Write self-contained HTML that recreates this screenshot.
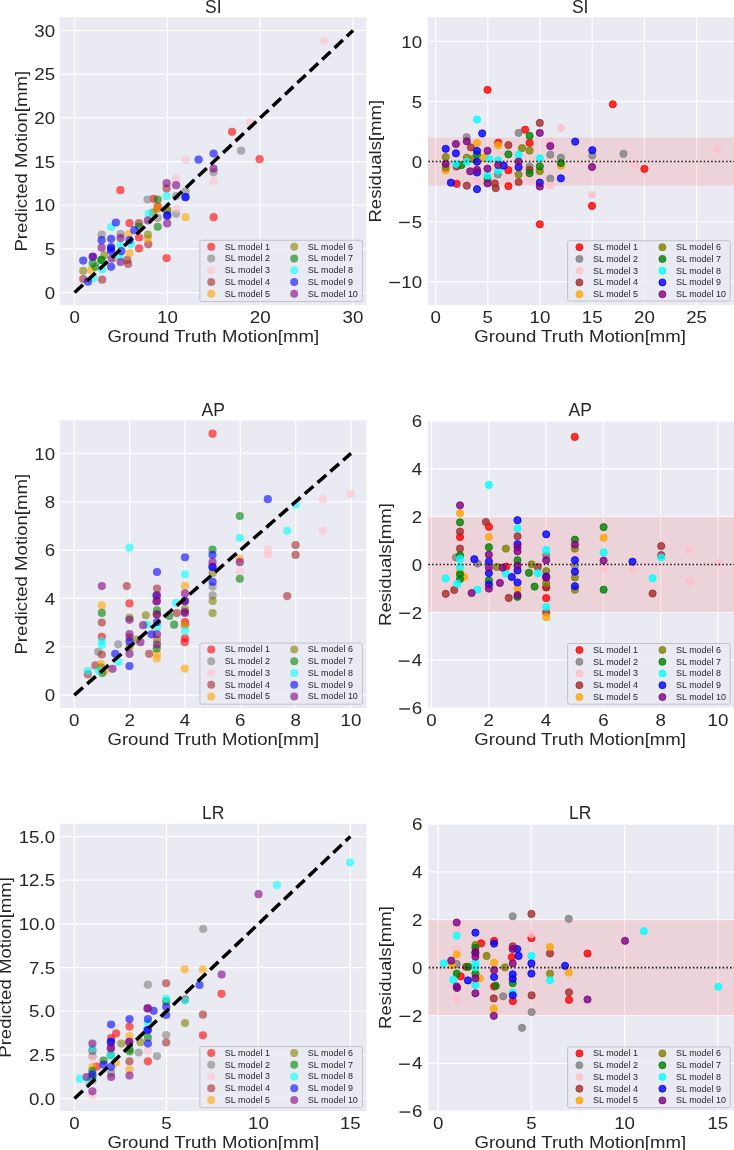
<!DOCTYPE html>
<html><head><meta charset="utf-8"><style>
html,body{margin:0;padding:0;background:#fff;width:734px;height:1150px;overflow:hidden}
svg{display:block;will-change:transform}
text{font-family:"Liberation Sans", sans-serif;fill:#262626}
.tk{font-size:16px}
.ti{font-size:17.5px}
.lb{font-size:16.6px}
.lg{font-size:8.4px}
</style></head><body>
<svg width="734" height="1150" viewBox="0 0 734 1150"><rect x="60" y="17.4" width="306.5" height="287.70000000000005" fill="#EAEAF2"/>
<clipPath id="c140074930810384"><rect x="60" y="17.4" width="306.5" height="287.70000000000005"/></clipPath>
<g clip-path="url(#c140074930810384)">
<line x1="74.60" y1="17.4" x2="74.60" y2="305.1" stroke="#fff" stroke-width="1.2"/>
<line x1="167.40" y1="17.4" x2="167.40" y2="305.1" stroke="#fff" stroke-width="1.2"/>
<line x1="260.20" y1="17.4" x2="260.20" y2="305.1" stroke="#fff" stroke-width="1.2"/>
<line x1="353.00" y1="17.4" x2="353.00" y2="305.1" stroke="#fff" stroke-width="1.2"/>
<line x1="60" y1="292.60" x2="366.5" y2="292.60" stroke="#fff" stroke-width="1.2"/>
<line x1="60" y1="248.92" x2="366.5" y2="248.92" stroke="#fff" stroke-width="1.2"/>
<line x1="60" y1="205.23" x2="366.5" y2="205.23" stroke="#fff" stroke-width="1.2"/>
<line x1="60" y1="161.55" x2="366.5" y2="161.55" stroke="#fff" stroke-width="1.2"/>
<line x1="60" y1="117.86" x2="366.5" y2="117.86" stroke="#fff" stroke-width="1.2"/>
<line x1="60" y1="74.18" x2="366.5" y2="74.18" stroke="#fff" stroke-width="1.2"/>
<line x1="60" y1="30.49" x2="366.5" y2="30.49" stroke="#fff" stroke-width="1.2"/>
<circle cx="213.6" cy="217.2" r="4.1" fill="#ff0000" fill-opacity="0.6"/>
<circle cx="129.5" cy="223.2" r="4.1" fill="#ff0000" fill-opacity="0.6"/>
<circle cx="139.0" cy="237.5" r="4.1" fill="#ff0000" fill-opacity="0.6"/>
<circle cx="139.0" cy="248.4" r="4.1" fill="#ff0000" fill-opacity="0.6"/>
<circle cx="157.7" cy="206.3" r="4.1" fill="#ff0000" fill-opacity="0.6"/>
<circle cx="153.6" cy="198.8" r="4.1" fill="#ff0000" fill-opacity="0.6"/>
<circle cx="120.4" cy="190.2" r="4.1" fill="#ff0000" fill-opacity="0.6"/>
<circle cx="232.0" cy="131.8" r="4.1" fill="#ff0000" fill-opacity="0.6"/>
<circle cx="166.6" cy="258.1" r="4.1" fill="#ff0000" fill-opacity="0.6"/>
<circle cx="259.6" cy="159.2" r="4.1" fill="#ff0000" fill-opacity="0.6"/>
<circle cx="176.1" cy="196.1" r="4.1" fill="#808080" fill-opacity="0.6"/>
<circle cx="176.1" cy="213.8" r="4.1" fill="#808080" fill-opacity="0.6"/>
<circle cx="101.6" cy="234.7" r="4.1" fill="#808080" fill-opacity="0.6"/>
<circle cx="120.6" cy="234.1" r="4.1" fill="#808080" fill-opacity="0.6"/>
<circle cx="185.6" cy="191.3" r="4.1" fill="#808080" fill-opacity="0.6"/>
<circle cx="157.7" cy="217.9" r="4.1" fill="#808080" fill-opacity="0.6"/>
<circle cx="213.6" cy="172.3" r="4.1" fill="#808080" fill-opacity="0.6"/>
<circle cx="241.1" cy="150.7" r="4.1" fill="#808080" fill-opacity="0.6"/>
<circle cx="147.5" cy="199.5" r="4.1" fill="#808080" fill-opacity="0.6"/>
<circle cx="176.8" cy="209.0" r="4.1" fill="#ffc0cb" fill-opacity="0.6"/>
<circle cx="213.6" cy="181.1" r="4.1" fill="#ffc0cb" fill-opacity="0.6"/>
<circle cx="324.4" cy="41.0" r="4.1" fill="#ffc0cb" fill-opacity="0.6"/>
<circle cx="185.6" cy="159.7" r="4.1" fill="#ffc0cb" fill-opacity="0.6"/>
<circle cx="250.0" cy="122.0" r="4.1" fill="#ffc0cb" fill-opacity="0.6"/>
<circle cx="176.1" cy="178.4" r="4.1" fill="#ffc0cb" fill-opacity="0.6"/>
<circle cx="127.4" cy="259.9" r="4.1" fill="#a52a2a" fill-opacity="0.6"/>
<circle cx="128.1" cy="264.0" r="4.1" fill="#a52a2a" fill-opacity="0.6"/>
<circle cx="166.6" cy="188.6" r="4.1" fill="#a52a2a" fill-opacity="0.6"/>
<circle cx="139.0" cy="223.2" r="4.1" fill="#a52a2a" fill-opacity="0.6"/>
<circle cx="83.2" cy="279.0" r="4.1" fill="#a52a2a" fill-opacity="0.6"/>
<circle cx="102.2" cy="279.7" r="4.1" fill="#a52a2a" fill-opacity="0.6"/>
<circle cx="148.3" cy="244.3" r="4.1" fill="#a52a2a" fill-opacity="0.6"/>
<circle cx="157.5" cy="208.6" r="4.1" fill="#a52a2a" fill-opacity="0.6"/>
<circle cx="185.6" cy="217.2" r="4.1" fill="#ffa500" fill-opacity="0.6"/>
<circle cx="128.8" cy="234.1" r="4.1" fill="#ffa500" fill-opacity="0.6"/>
<circle cx="129.5" cy="253.1" r="4.1" fill="#ffa500" fill-opacity="0.6"/>
<circle cx="91.3" cy="270.2" r="4.1" fill="#ffa500" fill-opacity="0.6"/>
<circle cx="157.7" cy="208.4" r="4.1" fill="#ffa500" fill-opacity="0.6"/>
<circle cx="147.9" cy="238.8" r="4.1" fill="#ffa500" fill-opacity="0.6"/>
<circle cx="104.3" cy="255.2" r="4.1" fill="#808000" fill-opacity="0.6"/>
<circle cx="167.2" cy="210.4" r="4.1" fill="#808000" fill-opacity="0.6"/>
<circle cx="83.2" cy="270.8" r="4.1" fill="#808000" fill-opacity="0.6"/>
<circle cx="152.9" cy="212.5" r="4.1" fill="#808000" fill-opacity="0.6"/>
<circle cx="147.9" cy="234.7" r="4.1" fill="#808000" fill-opacity="0.6"/>
<circle cx="167.3" cy="210.2" r="4.1" fill="#808000" fill-opacity="0.6"/>
<circle cx="101.6" cy="259.9" r="4.1" fill="#008000" fill-opacity="0.6"/>
<circle cx="95.4" cy="266.8" r="4.1" fill="#008000" fill-opacity="0.6"/>
<circle cx="92.7" cy="263.4" r="4.1" fill="#008000" fill-opacity="0.6"/>
<circle cx="139.0" cy="226.6" r="4.1" fill="#008000" fill-opacity="0.6"/>
<circle cx="157.7" cy="199.5" r="4.1" fill="#008000" fill-opacity="0.6"/>
<circle cx="157.7" cy="226.8" r="4.1" fill="#008000" fill-opacity="0.6"/>
<circle cx="101.1" cy="260.1" r="4.1" fill="#008000" fill-opacity="0.6"/>
<circle cx="119.9" cy="256.5" r="4.1" fill="#00ffff" fill-opacity="0.6"/>
<circle cx="120.6" cy="245.0" r="4.1" fill="#00ffff" fill-opacity="0.6"/>
<circle cx="102.2" cy="269.5" r="4.1" fill="#00ffff" fill-opacity="0.6"/>
<circle cx="130.8" cy="244.3" r="4.1" fill="#00ffff" fill-opacity="0.6"/>
<circle cx="111.1" cy="227.0" r="4.1" fill="#00ffff" fill-opacity="0.6"/>
<circle cx="166.6" cy="196.1" r="4.1" fill="#00ffff" fill-opacity="0.6"/>
<circle cx="93.4" cy="278.3" r="4.1" fill="#00ffff" fill-opacity="0.6"/>
<circle cx="148.6" cy="213.6" r="4.1" fill="#00ffff" fill-opacity="0.6"/>
<circle cx="111.1" cy="251.1" r="4.1" fill="#0000ff" fill-opacity="0.6"/>
<circle cx="111.1" cy="247.0" r="4.1" fill="#0000ff" fill-opacity="0.6"/>
<circle cx="101.6" cy="240.2" r="4.1" fill="#0000ff" fill-opacity="0.6"/>
<circle cx="111.1" cy="238.8" r="4.1" fill="#0000ff" fill-opacity="0.6"/>
<circle cx="121.3" cy="251.1" r="4.1" fill="#0000ff" fill-opacity="0.6"/>
<circle cx="185.6" cy="197.1" r="4.1" fill="#0000ff" fill-opacity="0.6"/>
<circle cx="111.1" cy="266.8" r="4.1" fill="#0000ff" fill-opacity="0.6"/>
<circle cx="129.5" cy="240.2" r="4.1" fill="#0000ff" fill-opacity="0.6"/>
<circle cx="167.2" cy="215.9" r="4.1" fill="#0000ff" fill-opacity="0.6"/>
<circle cx="213.6" cy="153.6" r="4.1" fill="#0000ff" fill-opacity="0.6"/>
<circle cx="134.3" cy="230.2" r="4.1" fill="#0000ff" fill-opacity="0.6"/>
<circle cx="83.2" cy="260.6" r="4.1" fill="#0000ff" fill-opacity="0.6"/>
<circle cx="115.9" cy="222.5" r="4.1" fill="#0000ff" fill-opacity="0.6"/>
<circle cx="198.6" cy="159.7" r="4.1" fill="#0000ff" fill-opacity="0.6"/>
<circle cx="87.9" cy="281.7" r="4.1" fill="#0000ff" fill-opacity="0.6"/>
<circle cx="92.9" cy="256.8" r="4.1" fill="#0000ff" fill-opacity="0.6"/>
<circle cx="110.9" cy="248.7" r="4.1" fill="#0000ff" fill-opacity="0.6"/>
<circle cx="167.3" cy="215.1" r="4.1" fill="#0000ff" fill-opacity="0.6"/>
<circle cx="185.3" cy="197.2" r="4.1" fill="#0000ff" fill-opacity="0.6"/>
<circle cx="101.6" cy="247.7" r="4.1" fill="#800080" fill-opacity="0.6"/>
<circle cx="111.8" cy="258.6" r="4.1" fill="#800080" fill-opacity="0.6"/>
<circle cx="120.6" cy="238.1" r="4.1" fill="#800080" fill-opacity="0.6"/>
<circle cx="120.6" cy="262.0" r="4.1" fill="#800080" fill-opacity="0.6"/>
<circle cx="92.7" cy="256.5" r="4.1" fill="#800080" fill-opacity="0.6"/>
<circle cx="167.2" cy="223.4" r="4.1" fill="#800080" fill-opacity="0.6"/>
<circle cx="176.1" cy="185.2" r="4.1" fill="#800080" fill-opacity="0.6"/>
<circle cx="166.6" cy="183.2" r="4.1" fill="#800080" fill-opacity="0.6"/>
<circle cx="147.9" cy="220.4" r="4.1" fill="#800080" fill-opacity="0.6"/>
<circle cx="213.6" cy="168.6" r="4.1" fill="#800080" fill-opacity="0.6"/>
<line x1="74.60" y1="292.60" x2="353.00" y2="30.49" stroke="#000" stroke-width="3.5" stroke-dasharray="11.5 5.5"/>
</g>
<text transform="translate(74.60,323.40) scale(1.17,1)" text-anchor="middle" class="tk">0</text>
<text transform="translate(167.40,323.40) scale(1.17,1)" text-anchor="middle" class="tk">10</text>
<text transform="translate(260.20,323.40) scale(1.17,1)" text-anchor="middle" class="tk">20</text>
<text transform="translate(353.00,323.40) scale(1.17,1)" text-anchor="middle" class="tk">30</text>
<text transform="translate(55.10,298.80) scale(1.17,1)" text-anchor="end" class="tk">0</text>
<text transform="translate(55.10,255.12) scale(1.17,1)" text-anchor="end" class="tk">5</text>
<text transform="translate(55.10,211.43) scale(1.17,1)" text-anchor="end" class="tk">10</text>
<text transform="translate(55.10,167.75) scale(1.17,1)" text-anchor="end" class="tk">15</text>
<text transform="translate(55.10,124.06) scale(1.17,1)" text-anchor="end" class="tk">20</text>
<text transform="translate(55.10,80.38) scale(1.17,1)" text-anchor="end" class="tk">25</text>
<text transform="translate(55.10,36.69) scale(1.17,1)" text-anchor="end" class="tk">30</text>
<text transform="translate(213.25,12.80) scale(1.0,1)" text-anchor="middle" class="ti">SI</text>
<text transform="translate(213.25,341.80) scale(1.12,1)" text-anchor="middle" class="lb">Ground Truth Motion[mm]</text>
<text transform="translate(27.2,161.2) rotate(-90) scale(1.12,1)" text-anchor="middle" class="lb">Predicted Motion[mm]</text>
<rect x="199.9" y="240.3" width="162.70000000000002" height="61.19999999999999" fill="#EAEAF2" fill-opacity="0.8" stroke="#bdbdc3" stroke-width="0.9" rx="1.8"/>
<circle cx="211.2" cy="246.8" r="4.0" fill="#ff0000" fill-opacity="0.6"/>
<text transform="translate(224.80,249.70) scale(1.07,1)" text-anchor="start" class="lg">SL model 1</text>
<circle cx="211.2" cy="258.6" r="4.0" fill="#808080" fill-opacity="0.6"/>
<text transform="translate(224.80,261.45) scale(1.07,1)" text-anchor="start" class="lg">SL model 2</text>
<circle cx="211.2" cy="270.3" r="4.0" fill="#ffc0cb" fill-opacity="0.6"/>
<text transform="translate(224.80,273.20) scale(1.07,1)" text-anchor="start" class="lg">SL model 3</text>
<circle cx="211.2" cy="282.1" r="4.0" fill="#a52a2a" fill-opacity="0.6"/>
<text transform="translate(224.80,284.95) scale(1.07,1)" text-anchor="start" class="lg">SL model 4</text>
<circle cx="211.2" cy="293.8" r="4.0" fill="#ffa500" fill-opacity="0.6"/>
<text transform="translate(224.80,296.70) scale(1.07,1)" text-anchor="start" class="lg">SL model 5</text>
<circle cx="294.2" cy="246.8" r="4.0" fill="#808000" fill-opacity="0.6"/>
<text transform="translate(307.80,249.70) scale(1.07,1)" text-anchor="start" class="lg">SL model 6</text>
<circle cx="294.2" cy="258.6" r="4.0" fill="#008000" fill-opacity="0.6"/>
<text transform="translate(307.80,261.45) scale(1.07,1)" text-anchor="start" class="lg">SL model 7</text>
<circle cx="294.2" cy="270.3" r="4.0" fill="#00ffff" fill-opacity="0.6"/>
<text transform="translate(307.80,273.20) scale(1.07,1)" text-anchor="start" class="lg">SL model 8</text>
<circle cx="294.2" cy="282.1" r="4.0" fill="#0000ff" fill-opacity="0.6"/>
<text transform="translate(307.80,284.95) scale(1.07,1)" text-anchor="start" class="lg">SL model 9</text>
<circle cx="294.2" cy="293.8" r="4.0" fill="#800080" fill-opacity="0.6"/>
<text transform="translate(307.80,296.70) scale(1.07,1)" text-anchor="start" class="lg">SL model 10</text>
<rect x="428" y="17.4" width="307" height="287.70000000000005" fill="#EAEAF2"/>
<clipPath id="c140074930917104"><rect x="428" y="17.4" width="307" height="287.70000000000005"/></clipPath>
<g clip-path="url(#c140074930917104)">
<line x1="435.60" y1="17.4" x2="435.60" y2="305.1" stroke="#fff" stroke-width="1.2"/>
<line x1="487.80" y1="17.4" x2="487.80" y2="305.1" stroke="#fff" stroke-width="1.2"/>
<line x1="540.00" y1="17.4" x2="540.00" y2="305.1" stroke="#fff" stroke-width="1.2"/>
<line x1="592.20" y1="17.4" x2="592.20" y2="305.1" stroke="#fff" stroke-width="1.2"/>
<line x1="644.40" y1="17.4" x2="644.40" y2="305.1" stroke="#fff" stroke-width="1.2"/>
<line x1="696.60" y1="17.4" x2="696.60" y2="305.1" stroke="#fff" stroke-width="1.2"/>
<line x1="428" y1="281.60" x2="735" y2="281.60" stroke="#fff" stroke-width="1.2"/>
<line x1="428" y1="221.55" x2="735" y2="221.55" stroke="#fff" stroke-width="1.2"/>
<line x1="428" y1="161.50" x2="735" y2="161.50" stroke="#fff" stroke-width="1.2"/>
<line x1="428" y1="101.45" x2="735" y2="101.45" stroke="#fff" stroke-width="1.2"/>
<line x1="428" y1="41.40" x2="735" y2="41.40" stroke="#fff" stroke-width="1.2"/>
<rect x="428" y="137.48" width="307" height="48.04" fill="#ff0000" fill-opacity="0.1"/>
<circle cx="644.4" cy="168.9" r="3.60" fill="#ff0000" fill-opacity="0.8" stroke="#ff0000" stroke-opacity="0.8" stroke-width="1"/>
<circle cx="498.2" cy="142.7" r="3.60" fill="#ff0000" fill-opacity="0.8" stroke="#ff0000" stroke-opacity="0.8" stroke-width="1"/>
<circle cx="456.6" cy="183.8" r="3.60" fill="#ff0000" fill-opacity="0.8" stroke="#ff0000" stroke-opacity="0.8" stroke-width="1"/>
<circle cx="592.0" cy="205.9" r="3.60" fill="#ff0000" fill-opacity="0.8" stroke="#ff0000" stroke-opacity="0.8" stroke-width="1"/>
<circle cx="539.8" cy="224.3" r="3.60" fill="#ff0000" fill-opacity="0.8" stroke="#ff0000" stroke-opacity="0.8" stroke-width="1"/>
<circle cx="508.4" cy="186.1" r="3.60" fill="#ff0000" fill-opacity="0.8" stroke="#ff0000" stroke-opacity="0.8" stroke-width="1"/>
<circle cx="612.8" cy="104.3" r="3.60" fill="#ff0000" fill-opacity="0.8" stroke="#ff0000" stroke-opacity="0.8" stroke-width="1"/>
<circle cx="529.6" cy="142.9" r="3.60" fill="#ff0000" fill-opacity="0.8" stroke="#ff0000" stroke-opacity="0.8" stroke-width="1"/>
<circle cx="487.5" cy="89.8" r="3.60" fill="#ff0000" fill-opacity="0.8" stroke="#ff0000" stroke-opacity="0.8" stroke-width="1"/>
<circle cx="508.4" cy="170.2" r="3.60" fill="#ff0000" fill-opacity="0.8" stroke="#ff0000" stroke-opacity="0.8" stroke-width="1"/>
<circle cx="525.1" cy="129.7" r="3.60" fill="#ff0000" fill-opacity="0.8" stroke="#ff0000" stroke-opacity="0.8" stroke-width="1"/>
<circle cx="466.6" cy="137.2" r="3.60" fill="#808080" fill-opacity="0.8" stroke="#808080" stroke-opacity="0.8" stroke-width="1"/>
<circle cx="550.3" cy="178.6" r="3.60" fill="#808080" fill-opacity="0.8" stroke="#808080" stroke-opacity="0.8" stroke-width="1"/>
<circle cx="550.3" cy="154.7" r="3.60" fill="#808080" fill-opacity="0.8" stroke="#808080" stroke-opacity="0.8" stroke-width="1"/>
<circle cx="497.8" cy="174.5" r="3.60" fill="#808080" fill-opacity="0.8" stroke="#808080" stroke-opacity="0.8" stroke-width="1"/>
<circle cx="592.3" cy="155.6" r="3.60" fill="#808080" fill-opacity="0.8" stroke="#808080" stroke-opacity="0.8" stroke-width="1"/>
<circle cx="623.4" cy="153.9" r="3.60" fill="#808080" fill-opacity="0.8" stroke="#808080" stroke-opacity="0.8" stroke-width="1"/>
<circle cx="560.9" cy="157.7" r="3.60" fill="#808080" fill-opacity="0.8" stroke="#808080" stroke-opacity="0.8" stroke-width="1"/>
<circle cx="529.6" cy="166.5" r="3.60" fill="#808080" fill-opacity="0.8" stroke="#808080" stroke-opacity="0.8" stroke-width="1"/>
<circle cx="518.6" cy="132.9" r="3.60" fill="#808080" fill-opacity="0.8" stroke="#808080" stroke-opacity="0.8" stroke-width="1"/>
<circle cx="560.9" cy="128.0" r="3.60" fill="#ffc0cb" fill-opacity="0.8" stroke="#ffc0cb" stroke-opacity="0.8" stroke-width="1"/>
<circle cx="634.7" cy="164.9" r="3.60" fill="#ffc0cb" fill-opacity="0.8" stroke="#ffc0cb" stroke-opacity="0.8" stroke-width="1"/>
<circle cx="550.3" cy="185.4" r="3.60" fill="#ffc0cb" fill-opacity="0.8" stroke="#ffc0cb" stroke-opacity="0.8" stroke-width="1"/>
<circle cx="550.0" cy="141.3" r="3.60" fill="#ffc0cb" fill-opacity="0.8" stroke="#ffc0cb" stroke-opacity="0.8" stroke-width="1"/>
<circle cx="477.0" cy="181.3" r="3.60" fill="#ffc0cb" fill-opacity="0.8" stroke="#ffc0cb" stroke-opacity="0.8" stroke-width="1"/>
<circle cx="592.0" cy="195.0" r="3.60" fill="#ffc0cb" fill-opacity="0.8" stroke="#ffc0cb" stroke-opacity="0.8" stroke-width="1"/>
<circle cx="717.4" cy="149.0" r="3.60" fill="#ffc0cb" fill-opacity="0.8" stroke="#ffc0cb" stroke-opacity="0.8" stroke-width="1"/>
<circle cx="529.6" cy="179.3" r="3.60" fill="#ffc0cb" fill-opacity="0.8" stroke="#ffc0cb" stroke-opacity="0.8" stroke-width="1"/>
<circle cx="466.8" cy="185.7" r="3.60" fill="#a52a2a" fill-opacity="0.8" stroke="#a52a2a" stroke-opacity="0.8" stroke-width="1"/>
<circle cx="494.8" cy="183.4" r="3.60" fill="#a52a2a" fill-opacity="0.8" stroke="#a52a2a" stroke-opacity="0.8" stroke-width="1"/>
<circle cx="470.9" cy="147.4" r="3.60" fill="#a52a2a" fill-opacity="0.8" stroke="#a52a2a" stroke-opacity="0.8" stroke-width="1"/>
<circle cx="495.7" cy="188.1" r="3.60" fill="#a52a2a" fill-opacity="0.8" stroke="#a52a2a" stroke-opacity="0.8" stroke-width="1"/>
<circle cx="539.8" cy="122.9" r="3.60" fill="#a52a2a" fill-opacity="0.8" stroke="#a52a2a" stroke-opacity="0.8" stroke-width="1"/>
<circle cx="508.4" cy="145.1" r="3.60" fill="#a52a2a" fill-opacity="0.8" stroke="#a52a2a" stroke-opacity="0.8" stroke-width="1"/>
<circle cx="456.6" cy="166.5" r="3.60" fill="#a52a2a" fill-opacity="0.8" stroke="#a52a2a" stroke-opacity="0.8" stroke-width="1"/>
<circle cx="529.6" cy="169.9" r="3.60" fill="#a52a2a" fill-opacity="0.8" stroke="#a52a2a" stroke-opacity="0.8" stroke-width="1"/>
<circle cx="518.6" cy="182.0" r="3.60" fill="#a52a2a" fill-opacity="0.8" stroke="#a52a2a" stroke-opacity="0.8" stroke-width="1"/>
<circle cx="477.0" cy="142.9" r="3.60" fill="#ffa500" fill-opacity="0.8" stroke="#ffa500" stroke-opacity="0.8" stroke-width="1"/>
<circle cx="498.2" cy="145.4" r="3.60" fill="#ffa500" fill-opacity="0.8" stroke="#ffa500" stroke-opacity="0.8" stroke-width="1"/>
<circle cx="483.9" cy="157.7" r="3.60" fill="#ffa500" fill-opacity="0.8" stroke="#ffa500" stroke-opacity="0.8" stroke-width="1"/>
<circle cx="445.7" cy="170.4" r="3.60" fill="#ffa500" fill-opacity="0.8" stroke="#ffa500" stroke-opacity="0.8" stroke-width="1"/>
<circle cx="560.9" cy="165.8" r="3.60" fill="#ffa500" fill-opacity="0.8" stroke="#ffa500" stroke-opacity="0.8" stroke-width="1"/>
<circle cx="466.8" cy="157.7" r="3.60" fill="#808000" fill-opacity="0.8" stroke="#808000" stroke-opacity="0.8" stroke-width="1"/>
<circle cx="539.8" cy="171.1" r="3.60" fill="#808000" fill-opacity="0.8" stroke="#808000" stroke-opacity="0.8" stroke-width="1"/>
<circle cx="473.0" cy="159.0" r="3.60" fill="#808000" fill-opacity="0.8" stroke="#808000" stroke-opacity="0.8" stroke-width="1"/>
<circle cx="445.7" cy="157.0" r="3.60" fill="#808000" fill-opacity="0.8" stroke="#808000" stroke-opacity="0.8" stroke-width="1"/>
<circle cx="445.7" cy="167.7" r="3.60" fill="#808000" fill-opacity="0.8" stroke="#808000" stroke-opacity="0.8" stroke-width="1"/>
<circle cx="529.6" cy="150.6" r="3.60" fill="#808000" fill-opacity="0.8" stroke="#808000" stroke-opacity="0.8" stroke-width="1"/>
<circle cx="518.6" cy="174.5" r="3.60" fill="#808000" fill-opacity="0.8" stroke="#808000" stroke-opacity="0.8" stroke-width="1"/>
<circle cx="522.0" cy="148.1" r="3.60" fill="#808000" fill-opacity="0.8" stroke="#808000" stroke-opacity="0.8" stroke-width="1"/>
<circle cx="487.5" cy="178.6" r="3.60" fill="#008000" fill-opacity="0.8" stroke="#008000" stroke-opacity="0.8" stroke-width="1"/>
<circle cx="477.0" cy="154.3" r="3.60" fill="#008000" fill-opacity="0.8" stroke="#008000" stroke-opacity="0.8" stroke-width="1"/>
<circle cx="508.4" cy="154.3" r="3.60" fill="#008000" fill-opacity="0.8" stroke="#008000" stroke-opacity="0.8" stroke-width="1"/>
<circle cx="560.9" cy="163.1" r="3.60" fill="#008000" fill-opacity="0.8" stroke="#008000" stroke-opacity="0.8" stroke-width="1"/>
<circle cx="539.8" cy="166.3" r="3.60" fill="#008000" fill-opacity="0.8" stroke="#008000" stroke-opacity="0.8" stroke-width="1"/>
<circle cx="461.4" cy="165.1" r="3.60" fill="#008000" fill-opacity="0.8" stroke="#008000" stroke-opacity="0.8" stroke-width="1"/>
<circle cx="529.6" cy="135.9" r="3.60" fill="#008000" fill-opacity="0.8" stroke="#008000" stroke-opacity="0.8" stroke-width="1"/>
<circle cx="529.6" cy="173.2" r="3.60" fill="#008000" fill-opacity="0.8" stroke="#008000" stroke-opacity="0.8" stroke-width="1"/>
<circle cx="477.0" cy="119.5" r="3.60" fill="#00ffff" fill-opacity="0.8" stroke="#00ffff" stroke-opacity="0.8" stroke-width="1"/>
<circle cx="487.5" cy="175.9" r="3.60" fill="#00ffff" fill-opacity="0.8" stroke="#00ffff" stroke-opacity="0.8" stroke-width="1"/>
<circle cx="539.8" cy="158.3" r="3.60" fill="#00ffff" fill-opacity="0.8" stroke="#00ffff" stroke-opacity="0.8" stroke-width="1"/>
<circle cx="489.3" cy="159.0" r="3.60" fill="#00ffff" fill-opacity="0.8" stroke="#00ffff" stroke-opacity="0.8" stroke-width="1"/>
<circle cx="498.2" cy="160.4" r="3.60" fill="#00ffff" fill-opacity="0.8" stroke="#00ffff" stroke-opacity="0.8" stroke-width="1"/>
<circle cx="466.8" cy="161.7" r="3.60" fill="#00ffff" fill-opacity="0.8" stroke="#00ffff" stroke-opacity="0.8" stroke-width="1"/>
<circle cx="455.9" cy="163.8" r="3.60" fill="#00ffff" fill-opacity="0.8" stroke="#00ffff" stroke-opacity="0.8" stroke-width="1"/>
<circle cx="518.6" cy="154.9" r="3.60" fill="#00ffff" fill-opacity="0.8" stroke="#00ffff" stroke-opacity="0.8" stroke-width="1"/>
<circle cx="498.2" cy="170.6" r="3.60" fill="#00ffff" fill-opacity="0.8" stroke="#00ffff" stroke-opacity="0.8" stroke-width="1"/>
<circle cx="482.2" cy="133.4" r="3.60" fill="#0000ff" fill-opacity="0.8" stroke="#0000ff" stroke-opacity="0.8" stroke-width="1"/>
<circle cx="477.0" cy="189.2" r="3.60" fill="#0000ff" fill-opacity="0.8" stroke="#0000ff" stroke-opacity="0.8" stroke-width="1"/>
<circle cx="575.2" cy="141.6" r="3.60" fill="#0000ff" fill-opacity="0.8" stroke="#0000ff" stroke-opacity="0.8" stroke-width="1"/>
<circle cx="477.0" cy="150.8" r="3.60" fill="#0000ff" fill-opacity="0.8" stroke="#0000ff" stroke-opacity="0.8" stroke-width="1"/>
<circle cx="560.9" cy="178.3" r="3.60" fill="#0000ff" fill-opacity="0.8" stroke="#0000ff" stroke-opacity="0.8" stroke-width="1"/>
<circle cx="455.9" cy="153.3" r="3.60" fill="#0000ff" fill-opacity="0.8" stroke="#0000ff" stroke-opacity="0.8" stroke-width="1"/>
<circle cx="592.3" cy="150.2" r="3.60" fill="#0000ff" fill-opacity="0.8" stroke="#0000ff" stroke-opacity="0.8" stroke-width="1"/>
<circle cx="450.9" cy="182.7" r="3.60" fill="#0000ff" fill-opacity="0.8" stroke="#0000ff" stroke-opacity="0.8" stroke-width="1"/>
<circle cx="477.0" cy="172.5" r="3.60" fill="#0000ff" fill-opacity="0.8" stroke="#0000ff" stroke-opacity="0.8" stroke-width="1"/>
<circle cx="539.8" cy="182.7" r="3.60" fill="#0000ff" fill-opacity="0.8" stroke="#0000ff" stroke-opacity="0.8" stroke-width="1"/>
<circle cx="477.0" cy="161.7" r="3.60" fill="#0000ff" fill-opacity="0.8" stroke="#0000ff" stroke-opacity="0.8" stroke-width="1"/>
<circle cx="445.7" cy="148.8" r="3.60" fill="#0000ff" fill-opacity="0.8" stroke="#0000ff" stroke-opacity="0.8" stroke-width="1"/>
<circle cx="503.6" cy="165.6" r="3.60" fill="#0000ff" fill-opacity="0.8" stroke="#0000ff" stroke-opacity="0.8" stroke-width="1"/>
<circle cx="518.6" cy="167.2" r="3.60" fill="#0000ff" fill-opacity="0.8" stroke="#0000ff" stroke-opacity="0.8" stroke-width="1"/>
<circle cx="466.8" cy="141.3" r="3.60" fill="#800080" fill-opacity="0.8" stroke="#800080" stroke-opacity="0.8" stroke-width="1"/>
<circle cx="487.5" cy="183.4" r="3.60" fill="#800080" fill-opacity="0.8" stroke="#800080" stroke-opacity="0.8" stroke-width="1"/>
<circle cx="550.3" cy="146.1" r="3.60" fill="#800080" fill-opacity="0.8" stroke="#800080" stroke-opacity="0.8" stroke-width="1"/>
<circle cx="487.5" cy="150.8" r="3.60" fill="#800080" fill-opacity="0.8" stroke="#800080" stroke-opacity="0.8" stroke-width="1"/>
<circle cx="455.9" cy="144.0" r="3.60" fill="#800080" fill-opacity="0.8" stroke="#800080" stroke-opacity="0.8" stroke-width="1"/>
<circle cx="539.8" cy="132.9" r="3.60" fill="#800080" fill-opacity="0.8" stroke="#800080" stroke-opacity="0.8" stroke-width="1"/>
<circle cx="539.8" cy="186.5" r="3.60" fill="#800080" fill-opacity="0.8" stroke="#800080" stroke-opacity="0.8" stroke-width="1"/>
<circle cx="477.0" cy="169.8" r="3.60" fill="#800080" fill-opacity="0.8" stroke="#800080" stroke-opacity="0.8" stroke-width="1"/>
<circle cx="592.0" cy="167.0" r="3.60" fill="#800080" fill-opacity="0.8" stroke="#800080" stroke-opacity="0.8" stroke-width="1"/>
<circle cx="445.7" cy="163.8" r="3.60" fill="#800080" fill-opacity="0.8" stroke="#800080" stroke-opacity="0.8" stroke-width="1"/>
<circle cx="498.2" cy="165.1" r="3.60" fill="#800080" fill-opacity="0.8" stroke="#800080" stroke-opacity="0.8" stroke-width="1"/>
<circle cx="487.5" cy="168.6" r="3.60" fill="#800080" fill-opacity="0.8" stroke="#800080" stroke-opacity="0.8" stroke-width="1"/>
<circle cx="518.6" cy="161.7" r="3.60" fill="#800080" fill-opacity="0.8" stroke="#800080" stroke-opacity="0.8" stroke-width="1"/>
<circle cx="470.2" cy="171.3" r="3.60" fill="#800080" fill-opacity="0.8" stroke="#800080" stroke-opacity="0.8" stroke-width="1"/>
<line x1="428" y1="161.50" x2="735" y2="161.50" stroke="#1a1a1a" stroke-width="1.6" stroke-dasharray="1.6 2.12" stroke-dashoffset="3.34"/>
</g>
<text transform="translate(435.60,323.40) scale(1.17,1)" text-anchor="middle" class="tk">0</text>
<text transform="translate(487.80,323.40) scale(1.17,1)" text-anchor="middle" class="tk">5</text>
<text transform="translate(540.00,323.40) scale(1.17,1)" text-anchor="middle" class="tk">10</text>
<text transform="translate(592.20,323.40) scale(1.17,1)" text-anchor="middle" class="tk">15</text>
<text transform="translate(644.40,323.40) scale(1.17,1)" text-anchor="middle" class="tk">20</text>
<text transform="translate(696.60,323.40) scale(1.17,1)" text-anchor="middle" class="tk">25</text>
<text transform="translate(422.10,287.80) scale(1.17,1)" text-anchor="end" class="tk">10</text>
<rect x="389.28" y="281.85" width="10.8" height="1.35" fill="#262626"/>
<text transform="translate(422.10,227.75) scale(1.17,1)" text-anchor="end" class="tk">5</text>
<rect x="399.04" y="221.80" width="10.8" height="1.35" fill="#262626"/>
<text transform="translate(422.10,167.70) scale(1.17,1)" text-anchor="end" class="tk">0</text>
<text transform="translate(422.10,107.65) scale(1.17,1)" text-anchor="end" class="tk">5</text>
<text transform="translate(422.10,47.60) scale(1.17,1)" text-anchor="end" class="tk">10</text>
<text transform="translate(580.15,12.80) scale(1.0,1)" text-anchor="middle" class="ti">SI</text>
<text transform="translate(580.15,341.80) scale(1.12,1)" text-anchor="middle" class="lb">Ground Truth Motion[mm]</text>
<text transform="translate(381.3,161.2) rotate(-90) scale(1.12,1)" text-anchor="middle" class="lb">Residuals[mm]</text>
<rect x="567.6" y="240.7" width="162.60000000000002" height="60.400000000000034" fill="#EAEAF2" fill-opacity="0.8" stroke="#bdbdc3" stroke-width="0.9" rx="1.8"/>
<circle cx="579.4" cy="247.2" r="3.50" fill="#ff0000" fill-opacity="0.8" stroke="#ff0000" stroke-opacity="0.8" stroke-width="1"/>
<text transform="translate(593.00,250.10) scale(1.07,1)" text-anchor="start" class="lg">SL model 1</text>
<circle cx="579.4" cy="258.9" r="3.50" fill="#808080" fill-opacity="0.8" stroke="#808080" stroke-opacity="0.8" stroke-width="1"/>
<text transform="translate(593.00,261.85) scale(1.07,1)" text-anchor="start" class="lg">SL model 2</text>
<circle cx="579.4" cy="270.7" r="3.50" fill="#ffc0cb" fill-opacity="0.8" stroke="#ffc0cb" stroke-opacity="0.8" stroke-width="1"/>
<text transform="translate(593.00,273.60) scale(1.07,1)" text-anchor="start" class="lg">SL model 3</text>
<circle cx="579.4" cy="282.4" r="3.50" fill="#a52a2a" fill-opacity="0.8" stroke="#a52a2a" stroke-opacity="0.8" stroke-width="1"/>
<text transform="translate(593.00,285.35) scale(1.07,1)" text-anchor="start" class="lg">SL model 4</text>
<circle cx="579.4" cy="294.2" r="3.50" fill="#ffa500" fill-opacity="0.8" stroke="#ffa500" stroke-opacity="0.8" stroke-width="1"/>
<text transform="translate(593.00,297.10) scale(1.07,1)" text-anchor="start" class="lg">SL model 5</text>
<circle cx="662.4" cy="247.2" r="3.50" fill="#808000" fill-opacity="0.8" stroke="#808000" stroke-opacity="0.8" stroke-width="1"/>
<text transform="translate(676.00,250.10) scale(1.07,1)" text-anchor="start" class="lg">SL model 6</text>
<circle cx="662.4" cy="258.9" r="3.50" fill="#008000" fill-opacity="0.8" stroke="#008000" stroke-opacity="0.8" stroke-width="1"/>
<text transform="translate(676.00,261.85) scale(1.07,1)" text-anchor="start" class="lg">SL model 7</text>
<circle cx="662.4" cy="270.7" r="3.50" fill="#00ffff" fill-opacity="0.8" stroke="#00ffff" stroke-opacity="0.8" stroke-width="1"/>
<text transform="translate(676.00,273.60) scale(1.07,1)" text-anchor="start" class="lg">SL model 8</text>
<circle cx="662.4" cy="282.4" r="3.50" fill="#0000ff" fill-opacity="0.8" stroke="#0000ff" stroke-opacity="0.8" stroke-width="1"/>
<text transform="translate(676.00,285.35) scale(1.07,1)" text-anchor="start" class="lg">SL model 9</text>
<circle cx="662.4" cy="294.2" r="3.50" fill="#800080" fill-opacity="0.8" stroke="#800080" stroke-opacity="0.8" stroke-width="1"/>
<text transform="translate(676.00,297.10) scale(1.07,1)" text-anchor="start" class="lg">SL model 10</text>
<rect x="60" y="420.4" width="306.5" height="287.6" fill="#EAEAF2"/>
<clipPath id="c140074930917344"><rect x="60" y="420.4" width="306.5" height="287.6"/></clipPath>
<g clip-path="url(#c140074930917344)">
<line x1="74.30" y1="420.4" x2="74.30" y2="708" stroke="#fff" stroke-width="1.2"/>
<line x1="129.64" y1="420.4" x2="129.64" y2="708" stroke="#fff" stroke-width="1.2"/>
<line x1="184.98" y1="420.4" x2="184.98" y2="708" stroke="#fff" stroke-width="1.2"/>
<line x1="240.32" y1="420.4" x2="240.32" y2="708" stroke="#fff" stroke-width="1.2"/>
<line x1="295.66" y1="420.4" x2="295.66" y2="708" stroke="#fff" stroke-width="1.2"/>
<line x1="351.00" y1="420.4" x2="351.00" y2="708" stroke="#fff" stroke-width="1.2"/>
<line x1="60" y1="695.10" x2="366.5" y2="695.10" stroke="#fff" stroke-width="1.2"/>
<line x1="60" y1="646.76" x2="366.5" y2="646.76" stroke="#fff" stroke-width="1.2"/>
<line x1="60" y1="598.42" x2="366.5" y2="598.42" stroke="#fff" stroke-width="1.2"/>
<line x1="60" y1="550.08" x2="366.5" y2="550.08" stroke="#fff" stroke-width="1.2"/>
<line x1="60" y1="501.74" x2="366.5" y2="501.74" stroke="#fff" stroke-width="1.2"/>
<line x1="60" y1="453.40" x2="366.5" y2="453.40" stroke="#fff" stroke-width="1.2"/>
<circle cx="185.0" cy="622.0" r="4.1" fill="#ff0000" fill-opacity="0.6"/>
<circle cx="101.8" cy="636.8" r="4.1" fill="#ff0000" fill-opacity="0.6"/>
<circle cx="185.0" cy="638.3" r="4.1" fill="#ff0000" fill-opacity="0.6"/>
<circle cx="212.5" cy="433.7" r="4.1" fill="#ff0000" fill-opacity="0.6"/>
<circle cx="129.5" cy="603.4" r="4.1" fill="#ff0000" fill-opacity="0.6"/>
<circle cx="184.7" cy="642.2" r="4.1" fill="#ff0000" fill-opacity="0.6"/>
<circle cx="118.2" cy="644.3" r="4.1" fill="#808080" fill-opacity="0.6"/>
<circle cx="98.1" cy="651.8" r="4.1" fill="#808080" fill-opacity="0.6"/>
<circle cx="212.6" cy="595.4" r="4.1" fill="#808080" fill-opacity="0.6"/>
<circle cx="212.6" cy="586.6" r="4.1" fill="#808080" fill-opacity="0.6"/>
<circle cx="322.9" cy="499.2" r="4.1" fill="#ffc0cb" fill-opacity="0.6"/>
<circle cx="322.9" cy="530.8" r="4.1" fill="#ffc0cb" fill-opacity="0.6"/>
<circle cx="267.8" cy="549.7" r="4.1" fill="#ffc0cb" fill-opacity="0.6"/>
<circle cx="267.8" cy="554.7" r="4.1" fill="#ffc0cb" fill-opacity="0.6"/>
<circle cx="350.6" cy="493.9" r="4.1" fill="#ffc0cb" fill-opacity="0.6"/>
<circle cx="239.8" cy="571.3" r="4.1" fill="#ffc0cb" fill-opacity="0.6"/>
<circle cx="295.6" cy="545.1" r="4.1" fill="#a52a2a" fill-opacity="0.6"/>
<circle cx="101.8" cy="654.5" r="4.1" fill="#a52a2a" fill-opacity="0.6"/>
<circle cx="176.8" cy="613.1" r="4.1" fill="#a52a2a" fill-opacity="0.6"/>
<circle cx="185.0" cy="624.7" r="4.1" fill="#a52a2a" fill-opacity="0.6"/>
<circle cx="95.4" cy="665.4" r="4.1" fill="#a52a2a" fill-opacity="0.6"/>
<circle cx="295.6" cy="554.9" r="4.1" fill="#a52a2a" fill-opacity="0.6"/>
<circle cx="129.5" cy="637.5" r="4.1" fill="#a52a2a" fill-opacity="0.6"/>
<circle cx="87.9" cy="674.3" r="4.1" fill="#a52a2a" fill-opacity="0.6"/>
<circle cx="101.8" cy="622.5" r="4.1" fill="#a52a2a" fill-opacity="0.6"/>
<circle cx="157.0" cy="588.6" r="4.1" fill="#a52a2a" fill-opacity="0.6"/>
<circle cx="126.8" cy="586.1" r="4.1" fill="#a52a2a" fill-opacity="0.6"/>
<circle cx="287.2" cy="596.1" r="4.1" fill="#a52a2a" fill-opacity="0.6"/>
<circle cx="149.2" cy="653.8" r="4.1" fill="#a52a2a" fill-opacity="0.6"/>
<circle cx="156.7" cy="614.3" r="4.1" fill="#a52a2a" fill-opacity="0.6"/>
<circle cx="100.9" cy="664.0" r="4.1" fill="#ffa500" fill-opacity="0.6"/>
<circle cx="105.0" cy="670.8" r="4.1" fill="#ffa500" fill-opacity="0.6"/>
<circle cx="239.8" cy="558.8" r="4.1" fill="#ffa500" fill-opacity="0.6"/>
<circle cx="185.0" cy="585.9" r="4.1" fill="#ffa500" fill-opacity="0.6"/>
<circle cx="184.7" cy="668.6" r="4.1" fill="#ffa500" fill-opacity="0.6"/>
<circle cx="157.0" cy="654.0" r="4.1" fill="#ffa500" fill-opacity="0.6"/>
<circle cx="101.8" cy="605.4" r="4.1" fill="#ffa500" fill-opacity="0.6"/>
<circle cx="156.7" cy="658.6" r="4.1" fill="#ffa500" fill-opacity="0.6"/>
<circle cx="184.7" cy="625.0" r="4.1" fill="#ffa500" fill-opacity="0.6"/>
<circle cx="185.0" cy="609.0" r="4.1" fill="#808000" fill-opacity="0.6"/>
<circle cx="100.9" cy="667.4" r="4.1" fill="#808000" fill-opacity="0.6"/>
<circle cx="129.5" cy="647.0" r="4.1" fill="#808000" fill-opacity="0.6"/>
<circle cx="212.6" cy="600.9" r="4.1" fill="#808000" fill-opacity="0.6"/>
<circle cx="212.6" cy="613.1" r="4.1" fill="#808000" fill-opacity="0.6"/>
<circle cx="136.3" cy="639.5" r="4.1" fill="#808000" fill-opacity="0.6"/>
<circle cx="129.5" cy="617.7" r="4.1" fill="#808000" fill-opacity="0.6"/>
<circle cx="157.0" cy="639.7" r="4.1" fill="#808000" fill-opacity="0.6"/>
<circle cx="145.8" cy="615.3" r="4.1" fill="#808000" fill-opacity="0.6"/>
<circle cx="212.6" cy="572.9" r="4.1" fill="#808000" fill-opacity="0.6"/>
<circle cx="239.8" cy="516.0" r="4.1" fill="#008000" fill-opacity="0.6"/>
<circle cx="174.1" cy="624.7" r="4.1" fill="#008000" fill-opacity="0.6"/>
<circle cx="169.3" cy="615.9" r="4.1" fill="#008000" fill-opacity="0.6"/>
<circle cx="102.2" cy="672.9" r="4.1" fill="#008000" fill-opacity="0.6"/>
<circle cx="157.0" cy="610.4" r="4.1" fill="#008000" fill-opacity="0.6"/>
<circle cx="101.8" cy="612.9" r="4.1" fill="#008000" fill-opacity="0.6"/>
<circle cx="212.5" cy="549.7" r="4.1" fill="#008000" fill-opacity="0.6"/>
<circle cx="239.8" cy="578.8" r="4.1" fill="#008000" fill-opacity="0.6"/>
<circle cx="156.7" cy="648.4" r="4.1" fill="#008000" fill-opacity="0.6"/>
<circle cx="295.6" cy="504.6" r="4.1" fill="#00ffff" fill-opacity="0.6"/>
<circle cx="287.1" cy="530.8" r="4.1" fill="#00ffff" fill-opacity="0.6"/>
<circle cx="101.8" cy="645.0" r="4.1" fill="#00ffff" fill-opacity="0.6"/>
<circle cx="101.8" cy="640.9" r="4.1" fill="#00ffff" fill-opacity="0.6"/>
<circle cx="239.8" cy="537.9" r="4.1" fill="#00ffff" fill-opacity="0.6"/>
<circle cx="118.6" cy="662.0" r="4.1" fill="#00ffff" fill-opacity="0.6"/>
<circle cx="176.1" cy="602.9" r="4.1" fill="#00ffff" fill-opacity="0.6"/>
<circle cx="129.5" cy="547.7" r="4.1" fill="#00ffff" fill-opacity="0.6"/>
<circle cx="98.8" cy="670.8" r="4.1" fill="#00ffff" fill-opacity="0.6"/>
<circle cx="185.0" cy="630.8" r="4.1" fill="#00ffff" fill-opacity="0.6"/>
<circle cx="87.9" cy="670.8" r="4.1" fill="#00ffff" fill-opacity="0.6"/>
<circle cx="157.0" cy="627.4" r="4.1" fill="#00ffff" fill-opacity="0.6"/>
<circle cx="185.0" cy="574.3" r="4.1" fill="#00ffff" fill-opacity="0.6"/>
<circle cx="147.2" cy="624.5" r="4.1" fill="#00ffff" fill-opacity="0.6"/>
<circle cx="267.8" cy="499.2" r="4.1" fill="#0000ff" fill-opacity="0.6"/>
<circle cx="115.2" cy="653.8" r="4.1" fill="#0000ff" fill-opacity="0.6"/>
<circle cx="185.0" cy="600.9" r="4.1" fill="#0000ff" fill-opacity="0.6"/>
<circle cx="129.5" cy="641.6" r="4.1" fill="#0000ff" fill-opacity="0.6"/>
<circle cx="129.5" cy="666.1" r="4.1" fill="#0000ff" fill-opacity="0.6"/>
<circle cx="212.6" cy="581.8" r="4.1" fill="#0000ff" fill-opacity="0.6"/>
<circle cx="157.0" cy="622.0" r="4.1" fill="#0000ff" fill-opacity="0.6"/>
<circle cx="212.5" cy="554.9" r="4.1" fill="#0000ff" fill-opacity="0.6"/>
<circle cx="212.5" cy="566.8" r="4.1" fill="#0000ff" fill-opacity="0.6"/>
<circle cx="157.0" cy="572.0" r="4.1" fill="#0000ff" fill-opacity="0.6"/>
<circle cx="151.6" cy="634.3" r="4.1" fill="#0000ff" fill-opacity="0.6"/>
<circle cx="185.0" cy="557.3" r="4.1" fill="#0000ff" fill-opacity="0.6"/>
<circle cx="156.4" cy="595.6" r="4.1" fill="#0000ff" fill-opacity="0.6"/>
<circle cx="212.5" cy="567.0" r="4.1" fill="#0000ff" fill-opacity="0.6"/>
<circle cx="185.0" cy="613.1" r="4.1" fill="#800080" fill-opacity="0.6"/>
<circle cx="185.0" cy="593.4" r="4.1" fill="#800080" fill-opacity="0.6"/>
<circle cx="112.5" cy="668.8" r="4.1" fill="#800080" fill-opacity="0.6"/>
<circle cx="129.5" cy="634.1" r="4.1" fill="#800080" fill-opacity="0.6"/>
<circle cx="129.5" cy="653.8" r="4.1" fill="#800080" fill-opacity="0.6"/>
<circle cx="239.8" cy="562.2" r="4.1" fill="#800080" fill-opacity="0.6"/>
<circle cx="129.5" cy="619.8" r="4.1" fill="#800080" fill-opacity="0.6"/>
<circle cx="140.4" cy="642.2" r="4.1" fill="#800080" fill-opacity="0.6"/>
<circle cx="157.0" cy="595.4" r="4.1" fill="#800080" fill-opacity="0.6"/>
<circle cx="157.0" cy="600.9" r="4.1" fill="#800080" fill-opacity="0.6"/>
<circle cx="157.0" cy="614.5" r="4.1" fill="#800080" fill-opacity="0.6"/>
<circle cx="157.0" cy="634.3" r="4.1" fill="#800080" fill-opacity="0.6"/>
<circle cx="143.1" cy="625.2" r="4.1" fill="#800080" fill-opacity="0.6"/>
<circle cx="157.0" cy="644.5" r="4.1" fill="#800080" fill-opacity="0.6"/>
<circle cx="101.8" cy="586.1" r="4.1" fill="#800080" fill-opacity="0.6"/>
<circle cx="212.5" cy="562.2" r="4.1" fill="#800080" fill-opacity="0.6"/>
<circle cx="156.4" cy="601.5" r="4.1" fill="#800080" fill-opacity="0.6"/>
<circle cx="184.7" cy="601.3" r="4.1" fill="#800080" fill-opacity="0.6"/>
<circle cx="184.7" cy="612.0" r="4.1" fill="#800080" fill-opacity="0.6"/>
<line x1="74.30" y1="695.10" x2="351.00" y2="453.40" stroke="#000" stroke-width="3.5" stroke-dasharray="11.5 5.5"/>
</g>
<text transform="translate(74.30,726.30) scale(1.17,1)" text-anchor="middle" class="tk">0</text>
<text transform="translate(129.64,726.30) scale(1.17,1)" text-anchor="middle" class="tk">2</text>
<text transform="translate(184.98,726.30) scale(1.17,1)" text-anchor="middle" class="tk">4</text>
<text transform="translate(240.32,726.30) scale(1.17,1)" text-anchor="middle" class="tk">6</text>
<text transform="translate(295.66,726.30) scale(1.17,1)" text-anchor="middle" class="tk">8</text>
<text transform="translate(351.00,726.30) scale(1.17,1)" text-anchor="middle" class="tk">10</text>
<text transform="translate(55.10,701.30) scale(1.17,1)" text-anchor="end" class="tk">0</text>
<text transform="translate(55.10,652.96) scale(1.17,1)" text-anchor="end" class="tk">2</text>
<text transform="translate(55.10,604.62) scale(1.17,1)" text-anchor="end" class="tk">4</text>
<text transform="translate(55.10,556.28) scale(1.17,1)" text-anchor="end" class="tk">6</text>
<text transform="translate(55.10,507.94) scale(1.17,1)" text-anchor="end" class="tk">8</text>
<text transform="translate(55.10,459.60) scale(1.17,1)" text-anchor="end" class="tk">10</text>
<text transform="translate(213.25,415.80) scale(1.0,1)" text-anchor="middle" class="ti">AP</text>
<text transform="translate(213.25,744.70) scale(1.12,1)" text-anchor="middle" class="lb">Ground Truth Motion[mm]</text>
<text transform="translate(27.2,564.2) rotate(-90) scale(1.12,1)" text-anchor="middle" class="lb">Predicted Motion[mm]</text>
<rect x="199.9" y="643.0" width="162.70000000000002" height="61.200000000000045" fill="#EAEAF2" fill-opacity="0.8" stroke="#bdbdc3" stroke-width="0.9" rx="1.8"/>
<circle cx="211.2" cy="649.5" r="4.0" fill="#ff0000" fill-opacity="0.6"/>
<text transform="translate(224.80,652.40) scale(1.07,1)" text-anchor="start" class="lg">SL model 1</text>
<circle cx="211.2" cy="661.2" r="4.0" fill="#808080" fill-opacity="0.6"/>
<text transform="translate(224.80,664.15) scale(1.07,1)" text-anchor="start" class="lg">SL model 2</text>
<circle cx="211.2" cy="673.0" r="4.0" fill="#ffc0cb" fill-opacity="0.6"/>
<text transform="translate(224.80,675.90) scale(1.07,1)" text-anchor="start" class="lg">SL model 3</text>
<circle cx="211.2" cy="684.8" r="4.0" fill="#a52a2a" fill-opacity="0.6"/>
<text transform="translate(224.80,687.65) scale(1.07,1)" text-anchor="start" class="lg">SL model 4</text>
<circle cx="211.2" cy="696.5" r="4.0" fill="#ffa500" fill-opacity="0.6"/>
<text transform="translate(224.80,699.40) scale(1.07,1)" text-anchor="start" class="lg">SL model 5</text>
<circle cx="294.2" cy="649.5" r="4.0" fill="#808000" fill-opacity="0.6"/>
<text transform="translate(307.80,652.40) scale(1.07,1)" text-anchor="start" class="lg">SL model 6</text>
<circle cx="294.2" cy="661.2" r="4.0" fill="#008000" fill-opacity="0.6"/>
<text transform="translate(307.80,664.15) scale(1.07,1)" text-anchor="start" class="lg">SL model 7</text>
<circle cx="294.2" cy="673.0" r="4.0" fill="#00ffff" fill-opacity="0.6"/>
<text transform="translate(307.80,675.90) scale(1.07,1)" text-anchor="start" class="lg">SL model 8</text>
<circle cx="294.2" cy="684.8" r="4.0" fill="#0000ff" fill-opacity="0.6"/>
<text transform="translate(307.80,687.65) scale(1.07,1)" text-anchor="start" class="lg">SL model 9</text>
<circle cx="294.2" cy="696.5" r="4.0" fill="#800080" fill-opacity="0.6"/>
<text transform="translate(307.80,699.40) scale(1.07,1)" text-anchor="start" class="lg">SL model 10</text>
<rect x="428" y="421" width="307" height="287" fill="#EAEAF2"/>
<clipPath id="c140074930917488"><rect x="428" y="421" width="307" height="287"/></clipPath>
<g clip-path="url(#c140074930917488)">
<line x1="431.50" y1="421" x2="431.50" y2="708" stroke="#fff" stroke-width="1.2"/>
<line x1="488.78" y1="421" x2="488.78" y2="708" stroke="#fff" stroke-width="1.2"/>
<line x1="546.06" y1="421" x2="546.06" y2="708" stroke="#fff" stroke-width="1.2"/>
<line x1="603.34" y1="421" x2="603.34" y2="708" stroke="#fff" stroke-width="1.2"/>
<line x1="660.62" y1="421" x2="660.62" y2="708" stroke="#fff" stroke-width="1.2"/>
<line x1="717.90" y1="421" x2="717.90" y2="708" stroke="#fff" stroke-width="1.2"/>
<line x1="428" y1="708.02" x2="735" y2="708.02" stroke="#fff" stroke-width="1.2"/>
<line x1="428" y1="660.18" x2="735" y2="660.18" stroke="#fff" stroke-width="1.2"/>
<line x1="428" y1="612.34" x2="735" y2="612.34" stroke="#fff" stroke-width="1.2"/>
<line x1="428" y1="564.50" x2="735" y2="564.50" stroke="#fff" stroke-width="1.2"/>
<line x1="428" y1="516.66" x2="735" y2="516.66" stroke="#fff" stroke-width="1.2"/>
<line x1="428" y1="468.82" x2="735" y2="468.82" stroke="#fff" stroke-width="1.2"/>
<line x1="428" y1="420.98" x2="735" y2="420.98" stroke="#fff" stroke-width="1.2"/>
<rect x="428" y="516.66" width="307" height="95.68" fill="#ff0000" fill-opacity="0.1"/>
<circle cx="574.7" cy="436.9" r="3.60" fill="#ff0000" fill-opacity="0.8" stroke="#ff0000" stroke-opacity="0.8" stroke-width="1"/>
<circle cx="488.9" cy="526.8" r="3.60" fill="#ff0000" fill-opacity="0.8" stroke="#ff0000" stroke-opacity="0.8" stroke-width="1"/>
<circle cx="460.0" cy="537.0" r="3.60" fill="#ff0000" fill-opacity="0.8" stroke="#ff0000" stroke-opacity="0.8" stroke-width="1"/>
<circle cx="546.2" cy="598.1" r="3.60" fill="#ff0000" fill-opacity="0.8" stroke="#ff0000" stroke-opacity="0.8" stroke-width="1"/>
<circle cx="506.3" cy="566.6" r="3.60" fill="#ff0000" fill-opacity="0.8" stroke="#ff0000" stroke-opacity="0.8" stroke-width="1"/>
<circle cx="546.2" cy="587.4" r="3.60" fill="#ff0000" fill-opacity="0.8" stroke="#ff0000" stroke-opacity="0.8" stroke-width="1"/>
<circle cx="546.2" cy="555.4" r="3.60" fill="#808080" fill-opacity="0.8" stroke="#808080" stroke-opacity="0.8" stroke-width="1"/>
<circle cx="455.9" cy="557.4" r="3.60" fill="#808080" fill-opacity="0.8" stroke="#808080" stroke-opacity="0.8" stroke-width="1"/>
<circle cx="477.7" cy="563.6" r="3.60" fill="#808080" fill-opacity="0.8" stroke="#808080" stroke-opacity="0.8" stroke-width="1"/>
<circle cx="574.9" cy="565.6" r="3.60" fill="#808080" fill-opacity="0.8" stroke="#808080" stroke-opacity="0.8" stroke-width="1"/>
<circle cx="689.4" cy="549.7" r="3.60" fill="#ffc0cb" fill-opacity="0.8" stroke="#ffc0cb" stroke-opacity="0.8" stroke-width="1"/>
<circle cx="689.4" cy="580.9" r="3.60" fill="#ffc0cb" fill-opacity="0.8" stroke="#ffc0cb" stroke-opacity="0.8" stroke-width="1"/>
<circle cx="574.9" cy="553.4" r="3.60" fill="#ffc0cb" fill-opacity="0.8" stroke="#ffc0cb" stroke-opacity="0.8" stroke-width="1"/>
<circle cx="632.5" cy="569.0" r="3.60" fill="#ffc0cb" fill-opacity="0.8" stroke="#ffc0cb" stroke-opacity="0.8" stroke-width="1"/>
<circle cx="718.3" cy="563.0" r="3.60" fill="#ffc0cb" fill-opacity="0.8" stroke="#ffc0cb" stroke-opacity="0.8" stroke-width="1"/>
<circle cx="603.6" cy="567.9" r="3.60" fill="#ffc0cb" fill-opacity="0.8" stroke="#ffc0cb" stroke-opacity="0.8" stroke-width="1"/>
<circle cx="661.2" cy="555.1" r="3.60" fill="#a52a2a" fill-opacity="0.8" stroke="#a52a2a" stroke-opacity="0.8" stroke-width="1"/>
<circle cx="661.2" cy="546.0" r="3.60" fill="#a52a2a" fill-opacity="0.8" stroke="#a52a2a" stroke-opacity="0.8" stroke-width="1"/>
<circle cx="652.6" cy="593.5" r="3.60" fill="#a52a2a" fill-opacity="0.8" stroke="#a52a2a" stroke-opacity="0.8" stroke-width="1"/>
<circle cx="460.0" cy="531.6" r="3.60" fill="#a52a2a" fill-opacity="0.8" stroke="#a52a2a" stroke-opacity="0.8" stroke-width="1"/>
<circle cx="460.0" cy="548.6" r="3.60" fill="#a52a2a" fill-opacity="0.8" stroke="#a52a2a" stroke-opacity="0.8" stroke-width="1"/>
<circle cx="485.9" cy="522.0" r="3.60" fill="#a52a2a" fill-opacity="0.8" stroke="#a52a2a" stroke-opacity="0.8" stroke-width="1"/>
<circle cx="546.2" cy="612.5" r="3.60" fill="#a52a2a" fill-opacity="0.8" stroke="#a52a2a" stroke-opacity="0.8" stroke-width="1"/>
<circle cx="546.2" cy="587.2" r="3.60" fill="#a52a2a" fill-opacity="0.8" stroke="#a52a2a" stroke-opacity="0.8" stroke-width="1"/>
<circle cx="454.2" cy="590.0" r="3.60" fill="#a52a2a" fill-opacity="0.8" stroke="#a52a2a" stroke-opacity="0.8" stroke-width="1"/>
<circle cx="537.8" cy="567.0" r="3.60" fill="#a52a2a" fill-opacity="0.8" stroke="#a52a2a" stroke-opacity="0.8" stroke-width="1"/>
<circle cx="508.7" cy="597.9" r="3.60" fill="#a52a2a" fill-opacity="0.8" stroke="#a52a2a" stroke-opacity="0.8" stroke-width="1"/>
<circle cx="445.7" cy="593.8" r="3.60" fill="#a52a2a" fill-opacity="0.8" stroke="#a52a2a" stroke-opacity="0.8" stroke-width="1"/>
<circle cx="517.5" cy="536.3" r="3.60" fill="#a52a2a" fill-opacity="0.8" stroke="#a52a2a" stroke-opacity="0.8" stroke-width="1"/>
<circle cx="488.9" cy="537.0" r="3.60" fill="#ffa500" fill-opacity="0.8" stroke="#ffa500" stroke-opacity="0.8" stroke-width="1"/>
<circle cx="546.2" cy="617.2" r="3.60" fill="#ffa500" fill-opacity="0.8" stroke="#ffa500" stroke-opacity="0.8" stroke-width="1"/>
<circle cx="460.0" cy="513.2" r="3.60" fill="#ffa500" fill-opacity="0.8" stroke="#ffa500" stroke-opacity="0.8" stroke-width="1"/>
<circle cx="460.0" cy="571.7" r="3.60" fill="#ffa500" fill-opacity="0.8" stroke="#ffa500" stroke-opacity="0.8" stroke-width="1"/>
<circle cx="464.1" cy="577.0" r="3.60" fill="#ffa500" fill-opacity="0.8" stroke="#ffa500" stroke-opacity="0.8" stroke-width="1"/>
<circle cx="603.6" cy="537.7" r="3.60" fill="#ffa500" fill-opacity="0.8" stroke="#ffa500" stroke-opacity="0.8" stroke-width="1"/>
<circle cx="517.5" cy="588.6" r="3.60" fill="#ffa500" fill-opacity="0.8" stroke="#ffa500" stroke-opacity="0.8" stroke-width="1"/>
<circle cx="574.9" cy="548.6" r="3.60" fill="#808000" fill-opacity="0.8" stroke="#808000" stroke-opacity="0.8" stroke-width="1"/>
<circle cx="574.9" cy="589.7" r="3.60" fill="#808000" fill-opacity="0.8" stroke="#808000" stroke-opacity="0.8" stroke-width="1"/>
<circle cx="546.2" cy="583.2" r="3.60" fill="#808000" fill-opacity="0.8" stroke="#808000" stroke-opacity="0.8" stroke-width="1"/>
<circle cx="496.8" cy="567.0" r="3.60" fill="#808000" fill-opacity="0.8" stroke="#808000" stroke-opacity="0.8" stroke-width="1"/>
<circle cx="505.9" cy="548.6" r="3.60" fill="#808000" fill-opacity="0.8" stroke="#808000" stroke-opacity="0.8" stroke-width="1"/>
<circle cx="546.2" cy="571.1" r="3.60" fill="#808000" fill-opacity="0.8" stroke="#808000" stroke-opacity="0.8" stroke-width="1"/>
<circle cx="574.9" cy="577.4" r="3.60" fill="#808000" fill-opacity="0.8" stroke="#808000" stroke-opacity="0.8" stroke-width="1"/>
<circle cx="531.6" cy="564.3" r="3.60" fill="#808000" fill-opacity="0.8" stroke="#808000" stroke-opacity="0.8" stroke-width="1"/>
<circle cx="574.9" cy="539.7" r="3.60" fill="#008000" fill-opacity="0.8" stroke="#008000" stroke-opacity="0.8" stroke-width="1"/>
<circle cx="488.9" cy="547.2" r="3.60" fill="#008000" fill-opacity="0.8" stroke="#008000" stroke-opacity="0.8" stroke-width="1"/>
<circle cx="460.0" cy="522.3" r="3.60" fill="#008000" fill-opacity="0.8" stroke="#008000" stroke-opacity="0.8" stroke-width="1"/>
<circle cx="460.0" cy="555.4" r="3.60" fill="#008000" fill-opacity="0.8" stroke="#008000" stroke-opacity="0.8" stroke-width="1"/>
<circle cx="488.9" cy="580.4" r="3.60" fill="#008000" fill-opacity="0.8" stroke="#008000" stroke-opacity="0.8" stroke-width="1"/>
<circle cx="460.0" cy="579.1" r="3.60" fill="#008000" fill-opacity="0.8" stroke="#008000" stroke-opacity="0.8" stroke-width="1"/>
<circle cx="534.6" cy="586.6" r="3.60" fill="#008000" fill-opacity="0.8" stroke="#008000" stroke-opacity="0.8" stroke-width="1"/>
<circle cx="603.6" cy="527.1" r="3.60" fill="#008000" fill-opacity="0.8" stroke="#008000" stroke-opacity="0.8" stroke-width="1"/>
<circle cx="603.6" cy="589.7" r="3.60" fill="#008000" fill-opacity="0.8" stroke="#008000" stroke-opacity="0.8" stroke-width="1"/>
<circle cx="460.0" cy="574.3" r="3.60" fill="#008000" fill-opacity="0.8" stroke="#008000" stroke-opacity="0.8" stroke-width="1"/>
<circle cx="528.9" cy="572.8" r="3.60" fill="#008000" fill-opacity="0.8" stroke="#008000" stroke-opacity="0.8" stroke-width="1"/>
<circle cx="517.5" cy="560.2" r="3.60" fill="#008000" fill-opacity="0.8" stroke="#008000" stroke-opacity="0.8" stroke-width="1"/>
<circle cx="517.5" cy="596.8" r="3.60" fill="#008000" fill-opacity="0.8" stroke="#008000" stroke-opacity="0.8" stroke-width="1"/>
<circle cx="488.8" cy="484.9" r="3.60" fill="#00ffff" fill-opacity="0.8" stroke="#00ffff" stroke-opacity="0.8" stroke-width="1"/>
<circle cx="661.2" cy="557.5" r="3.60" fill="#00ffff" fill-opacity="0.8" stroke="#00ffff" stroke-opacity="0.8" stroke-width="1"/>
<circle cx="652.6" cy="578.1" r="3.60" fill="#00ffff" fill-opacity="0.8" stroke="#00ffff" stroke-opacity="0.8" stroke-width="1"/>
<circle cx="460.0" cy="558.8" r="3.60" fill="#00ffff" fill-opacity="0.8" stroke="#00ffff" stroke-opacity="0.8" stroke-width="1"/>
<circle cx="477.3" cy="589.7" r="3.60" fill="#00ffff" fill-opacity="0.8" stroke="#00ffff" stroke-opacity="0.8" stroke-width="1"/>
<circle cx="546.2" cy="549.9" r="3.60" fill="#00ffff" fill-opacity="0.8" stroke="#00ffff" stroke-opacity="0.8" stroke-width="1"/>
<circle cx="546.2" cy="607.0" r="3.60" fill="#00ffff" fill-opacity="0.8" stroke="#00ffff" stroke-opacity="0.8" stroke-width="1"/>
<circle cx="457.3" cy="583.8" r="3.60" fill="#00ffff" fill-opacity="0.8" stroke="#00ffff" stroke-opacity="0.8" stroke-width="1"/>
<circle cx="460.0" cy="567.0" r="3.60" fill="#00ffff" fill-opacity="0.8" stroke="#00ffff" stroke-opacity="0.8" stroke-width="1"/>
<circle cx="445.7" cy="578.4" r="3.60" fill="#00ffff" fill-opacity="0.8" stroke="#00ffff" stroke-opacity="0.8" stroke-width="1"/>
<circle cx="537.8" cy="573.1" r="3.60" fill="#00ffff" fill-opacity="0.8" stroke="#00ffff" stroke-opacity="0.8" stroke-width="1"/>
<circle cx="505.7" cy="573.4" r="3.60" fill="#00ffff" fill-opacity="0.8" stroke="#00ffff" stroke-opacity="0.8" stroke-width="1"/>
<circle cx="603.6" cy="552.4" r="3.60" fill="#00ffff" fill-opacity="0.8" stroke="#00ffff" stroke-opacity="0.8" stroke-width="1"/>
<circle cx="517.5" cy="528.4" r="3.60" fill="#00ffff" fill-opacity="0.8" stroke="#00ffff" stroke-opacity="0.8" stroke-width="1"/>
<circle cx="632.5" cy="561.7" r="3.60" fill="#0000ff" fill-opacity="0.8" stroke="#0000ff" stroke-opacity="0.8" stroke-width="1"/>
<circle cx="474.3" cy="559.2" r="3.60" fill="#0000ff" fill-opacity="0.8" stroke="#0000ff" stroke-opacity="0.8" stroke-width="1"/>
<circle cx="574.9" cy="560.2" r="3.60" fill="#0000ff" fill-opacity="0.8" stroke="#0000ff" stroke-opacity="0.8" stroke-width="1"/>
<circle cx="488.9" cy="561.5" r="3.60" fill="#0000ff" fill-opacity="0.8" stroke="#0000ff" stroke-opacity="0.8" stroke-width="1"/>
<circle cx="546.2" cy="534.3" r="3.60" fill="#0000ff" fill-opacity="0.8" stroke="#0000ff" stroke-opacity="0.8" stroke-width="1"/>
<circle cx="574.9" cy="586.2" r="3.60" fill="#0000ff" fill-opacity="0.8" stroke="#0000ff" stroke-opacity="0.8" stroke-width="1"/>
<circle cx="488.9" cy="584.5" r="3.60" fill="#0000ff" fill-opacity="0.8" stroke="#0000ff" stroke-opacity="0.8" stroke-width="1"/>
<circle cx="574.9" cy="571.7" r="3.60" fill="#0000ff" fill-opacity="0.8" stroke="#0000ff" stroke-opacity="0.8" stroke-width="1"/>
<circle cx="488.9" cy="573.1" r="3.60" fill="#0000ff" fill-opacity="0.8" stroke="#0000ff" stroke-opacity="0.8" stroke-width="1"/>
<circle cx="511.8" cy="577.0" r="3.60" fill="#0000ff" fill-opacity="0.8" stroke="#0000ff" stroke-opacity="0.8" stroke-width="1"/>
<circle cx="546.2" cy="576.5" r="3.60" fill="#0000ff" fill-opacity="0.8" stroke="#0000ff" stroke-opacity="0.8" stroke-width="1"/>
<circle cx="517.5" cy="520.2" r="3.60" fill="#0000ff" fill-opacity="0.8" stroke="#0000ff" stroke-opacity="0.8" stroke-width="1"/>
<circle cx="517.5" cy="544.2" r="3.60" fill="#0000ff" fill-opacity="0.8" stroke="#0000ff" stroke-opacity="0.8" stroke-width="1"/>
<circle cx="517.5" cy="570.4" r="3.60" fill="#0000ff" fill-opacity="0.8" stroke="#0000ff" stroke-opacity="0.8" stroke-width="1"/>
<circle cx="517.5" cy="582.5" r="3.60" fill="#0000ff" fill-opacity="0.8" stroke="#0000ff" stroke-opacity="0.8" stroke-width="1"/>
<circle cx="574.9" cy="544.5" r="3.60" fill="#800080" fill-opacity="0.8" stroke="#800080" stroke-opacity="0.8" stroke-width="1"/>
<circle cx="488.9" cy="554.7" r="3.60" fill="#800080" fill-opacity="0.8" stroke="#800080" stroke-opacity="0.8" stroke-width="1"/>
<circle cx="471.6" cy="593.0" r="3.60" fill="#800080" fill-opacity="0.8" stroke="#800080" stroke-opacity="0.8" stroke-width="1"/>
<circle cx="488.9" cy="588.6" r="3.60" fill="#800080" fill-opacity="0.8" stroke="#800080" stroke-opacity="0.8" stroke-width="1"/>
<circle cx="546.2" cy="560.2" r="3.60" fill="#800080" fill-opacity="0.8" stroke="#800080" stroke-opacity="0.8" stroke-width="1"/>
<circle cx="499.9" cy="582.9" r="3.60" fill="#800080" fill-opacity="0.8" stroke="#800080" stroke-opacity="0.8" stroke-width="1"/>
<circle cx="488.9" cy="567.7" r="3.60" fill="#800080" fill-opacity="0.8" stroke="#800080" stroke-opacity="0.8" stroke-width="1"/>
<circle cx="502.7" cy="567.7" r="3.60" fill="#800080" fill-opacity="0.8" stroke="#800080" stroke-opacity="0.8" stroke-width="1"/>
<circle cx="546.2" cy="577.7" r="3.60" fill="#800080" fill-opacity="0.8" stroke="#800080" stroke-opacity="0.8" stroke-width="1"/>
<circle cx="460.0" cy="505.3" r="3.60" fill="#800080" fill-opacity="0.8" stroke="#800080" stroke-opacity="0.8" stroke-width="1"/>
<circle cx="603.6" cy="560.6" r="3.60" fill="#800080" fill-opacity="0.8" stroke="#800080" stroke-opacity="0.8" stroke-width="1"/>
<circle cx="517.5" cy="547.2" r="3.60" fill="#800080" fill-opacity="0.8" stroke="#800080" stroke-opacity="0.8" stroke-width="1"/>
<circle cx="517.5" cy="551.3" r="3.60" fill="#800080" fill-opacity="0.8" stroke="#800080" stroke-opacity="0.8" stroke-width="1"/>
<circle cx="517.5" cy="565.6" r="3.60" fill="#800080" fill-opacity="0.8" stroke="#800080" stroke-opacity="0.8" stroke-width="1"/>
<circle cx="517.5" cy="595.1" r="3.60" fill="#800080" fill-opacity="0.8" stroke="#800080" stroke-opacity="0.8" stroke-width="1"/>
<line x1="428" y1="564.50" x2="735" y2="564.50" stroke="#1a1a1a" stroke-width="1.6" stroke-dasharray="1.6 2.12" stroke-dashoffset="3.34"/>
</g>
<text transform="translate(431.50,726.30) scale(1.17,1)" text-anchor="middle" class="tk">0</text>
<text transform="translate(488.78,726.30) scale(1.17,1)" text-anchor="middle" class="tk">2</text>
<text transform="translate(546.06,726.30) scale(1.17,1)" text-anchor="middle" class="tk">4</text>
<text transform="translate(603.34,726.30) scale(1.17,1)" text-anchor="middle" class="tk">6</text>
<text transform="translate(660.62,726.30) scale(1.17,1)" text-anchor="middle" class="tk">8</text>
<text transform="translate(717.90,726.30) scale(1.17,1)" text-anchor="middle" class="tk">10</text>
<text transform="translate(422.10,714.22) scale(1.17,1)" text-anchor="end" class="tk">6</text>
<rect x="399.22" y="708.27" width="10.8" height="1.35" fill="#262626"/>
<text transform="translate(422.10,666.38) scale(1.17,1)" text-anchor="end" class="tk">4</text>
<rect x="398.76" y="660.43" width="10.8" height="1.35" fill="#262626"/>
<text transform="translate(422.10,618.54) scale(1.17,1)" text-anchor="end" class="tk">2</text>
<rect x="399.22" y="612.59" width="10.8" height="1.35" fill="#262626"/>
<text transform="translate(422.10,570.70) scale(1.17,1)" text-anchor="end" class="tk">0</text>
<text transform="translate(422.10,522.86) scale(1.17,1)" text-anchor="end" class="tk">2</text>
<text transform="translate(422.10,475.02) scale(1.17,1)" text-anchor="end" class="tk">4</text>
<text transform="translate(422.10,427.18) scale(1.17,1)" text-anchor="end" class="tk">6</text>
<text transform="translate(580.15,416.40) scale(1.0,1)" text-anchor="middle" class="ti">AP</text>
<text transform="translate(580.15,744.70) scale(1.12,1)" text-anchor="middle" class="lb">Ground Truth Motion[mm]</text>
<text transform="translate(391.3,564.5) rotate(-90) scale(1.12,1)" text-anchor="middle" class="lb">Residuals[mm]</text>
<rect x="567.6" y="643.5" width="162.60000000000002" height="60.700000000000045" fill="#EAEAF2" fill-opacity="0.8" stroke="#bdbdc3" stroke-width="0.9" rx="1.8"/>
<circle cx="579.4" cy="650.0" r="3.50" fill="#ff0000" fill-opacity="0.8" stroke="#ff0000" stroke-opacity="0.8" stroke-width="1"/>
<text transform="translate(593.00,652.90) scale(1.07,1)" text-anchor="start" class="lg">SL model 1</text>
<circle cx="579.4" cy="661.8" r="3.50" fill="#808080" fill-opacity="0.8" stroke="#808080" stroke-opacity="0.8" stroke-width="1"/>
<text transform="translate(593.00,664.65) scale(1.07,1)" text-anchor="start" class="lg">SL model 2</text>
<circle cx="579.4" cy="673.5" r="3.50" fill="#ffc0cb" fill-opacity="0.8" stroke="#ffc0cb" stroke-opacity="0.8" stroke-width="1"/>
<text transform="translate(593.00,676.40) scale(1.07,1)" text-anchor="start" class="lg">SL model 3</text>
<circle cx="579.4" cy="685.2" r="3.50" fill="#a52a2a" fill-opacity="0.8" stroke="#a52a2a" stroke-opacity="0.8" stroke-width="1"/>
<text transform="translate(593.00,688.15) scale(1.07,1)" text-anchor="start" class="lg">SL model 4</text>
<circle cx="579.4" cy="697.0" r="3.50" fill="#ffa500" fill-opacity="0.8" stroke="#ffa500" stroke-opacity="0.8" stroke-width="1"/>
<text transform="translate(593.00,699.90) scale(1.07,1)" text-anchor="start" class="lg">SL model 5</text>
<circle cx="662.4" cy="650.0" r="3.50" fill="#808000" fill-opacity="0.8" stroke="#808000" stroke-opacity="0.8" stroke-width="1"/>
<text transform="translate(676.00,652.90) scale(1.07,1)" text-anchor="start" class="lg">SL model 6</text>
<circle cx="662.4" cy="661.8" r="3.50" fill="#008000" fill-opacity="0.8" stroke="#008000" stroke-opacity="0.8" stroke-width="1"/>
<text transform="translate(676.00,664.65) scale(1.07,1)" text-anchor="start" class="lg">SL model 7</text>
<circle cx="662.4" cy="673.5" r="3.50" fill="#00ffff" fill-opacity="0.8" stroke="#00ffff" stroke-opacity="0.8" stroke-width="1"/>
<text transform="translate(676.00,676.40) scale(1.07,1)" text-anchor="start" class="lg">SL model 8</text>
<circle cx="662.4" cy="685.2" r="3.50" fill="#0000ff" fill-opacity="0.8" stroke="#0000ff" stroke-opacity="0.8" stroke-width="1"/>
<text transform="translate(676.00,688.15) scale(1.07,1)" text-anchor="start" class="lg">SL model 9</text>
<circle cx="662.4" cy="697.0" r="3.50" fill="#800080" fill-opacity="0.8" stroke="#800080" stroke-opacity="0.8" stroke-width="1"/>
<text transform="translate(676.00,699.90) scale(1.07,1)" text-anchor="start" class="lg">SL model 10</text>
<rect x="60" y="823.7" width="306.6" height="287.29999999999995" fill="#EAEAF2"/>
<clipPath id="c140074930917584"><rect x="60" y="823.7" width="306.6" height="287.29999999999995"/></clipPath>
<g clip-path="url(#c140074930917584)">
<line x1="74.50" y1="823.7" x2="74.50" y2="1111" stroke="#fff" stroke-width="1.2"/>
<line x1="166.45" y1="823.7" x2="166.45" y2="1111" stroke="#fff" stroke-width="1.2"/>
<line x1="258.40" y1="823.7" x2="258.40" y2="1111" stroke="#fff" stroke-width="1.2"/>
<line x1="350.35" y1="823.7" x2="350.35" y2="1111" stroke="#fff" stroke-width="1.2"/>
<line x1="60" y1="1098.60" x2="366.6" y2="1098.60" stroke="#fff" stroke-width="1.2"/>
<line x1="60" y1="1054.92" x2="366.6" y2="1054.92" stroke="#fff" stroke-width="1.2"/>
<line x1="60" y1="1011.25" x2="366.6" y2="1011.25" stroke="#fff" stroke-width="1.2"/>
<line x1="60" y1="967.57" x2="366.6" y2="967.57" stroke="#fff" stroke-width="1.2"/>
<line x1="60" y1="923.90" x2="366.6" y2="923.90" stroke="#fff" stroke-width="1.2"/>
<line x1="60" y1="880.22" x2="366.6" y2="880.22" stroke="#fff" stroke-width="1.2"/>
<line x1="60" y1="836.55" x2="366.6" y2="836.55" stroke="#fff" stroke-width="1.2"/>
<circle cx="111.1" cy="1038.1" r="4.1" fill="#ff0000" fill-opacity="0.6"/>
<circle cx="96.8" cy="1066.5" r="4.1" fill="#ff0000" fill-opacity="0.6"/>
<circle cx="116.1" cy="1033.4" r="4.1" fill="#ff0000" fill-opacity="0.6"/>
<circle cx="129.5" cy="1026.6" r="4.1" fill="#ff0000" fill-opacity="0.6"/>
<circle cx="221.5" cy="993.8" r="4.1" fill="#ff0000" fill-opacity="0.6"/>
<circle cx="202.9" cy="1035.3" r="4.1" fill="#ff0000" fill-opacity="0.6"/>
<circle cx="147.9" cy="1061.3" r="4.1" fill="#ff0000" fill-opacity="0.6"/>
<circle cx="92.4" cy="1055.9" r="4.1" fill="#808080" fill-opacity="0.6"/>
<circle cx="111.1" cy="1072.9" r="4.1" fill="#808080" fill-opacity="0.6"/>
<circle cx="138.7" cy="1052.5" r="4.1" fill="#808080" fill-opacity="0.6"/>
<circle cx="92.4" cy="1080.4" r="4.1" fill="#808080" fill-opacity="0.6"/>
<circle cx="157.0" cy="1056.1" r="4.1" fill="#808080" fill-opacity="0.6"/>
<circle cx="166.2" cy="1035.0" r="4.1" fill="#808080" fill-opacity="0.6"/>
<circle cx="147.9" cy="984.7" r="4.1" fill="#808080" fill-opacity="0.6"/>
<circle cx="203.2" cy="929.0" r="4.1" fill="#808080" fill-opacity="0.6"/>
<circle cx="92.4" cy="1058.6" r="4.1" fill="#ffc0cb" fill-opacity="0.6"/>
<circle cx="147.9" cy="1051.1" r="4.1" fill="#ffc0cb" fill-opacity="0.6"/>
<circle cx="92.4" cy="1095.4" r="4.1" fill="#ffc0cb" fill-opacity="0.6"/>
<circle cx="185.0" cy="999.3" r="4.1" fill="#a52a2a" fill-opacity="0.6"/>
<circle cx="92.4" cy="1050.4" r="4.1" fill="#a52a2a" fill-opacity="0.6"/>
<circle cx="129.5" cy="1061.3" r="4.1" fill="#a52a2a" fill-opacity="0.6"/>
<circle cx="166.2" cy="983.3" r="4.1" fill="#a52a2a" fill-opacity="0.6"/>
<circle cx="202.9" cy="1014.7" r="4.1" fill="#a52a2a" fill-opacity="0.6"/>
<circle cx="166.2" cy="1042.5" r="4.1" fill="#a52a2a" fill-opacity="0.6"/>
<circle cx="115.9" cy="1062.7" r="4.1" fill="#ffa500" fill-opacity="0.6"/>
<circle cx="92.4" cy="1066.8" r="4.1" fill="#ffa500" fill-opacity="0.6"/>
<circle cx="129.5" cy="1036.1" r="4.1" fill="#ffa500" fill-opacity="0.6"/>
<circle cx="129.5" cy="1069.5" r="4.1" fill="#ffa500" fill-opacity="0.6"/>
<circle cx="184.7" cy="969.3" r="4.1" fill="#ffa500" fill-opacity="0.6"/>
<circle cx="202.9" cy="969.3" r="4.1" fill="#ffa500" fill-opacity="0.6"/>
<circle cx="121.3" cy="1043.6" r="4.1" fill="#808000" fill-opacity="0.6"/>
<circle cx="140.4" cy="1042.2" r="4.1" fill="#808000" fill-opacity="0.6"/>
<circle cx="185.0" cy="1023.1" r="4.1" fill="#808000" fill-opacity="0.6"/>
<circle cx="103.6" cy="1060.6" r="4.1" fill="#008000" fill-opacity="0.6"/>
<circle cx="129.5" cy="1049.0" r="4.1" fill="#008000" fill-opacity="0.6"/>
<circle cx="92.4" cy="1070.8" r="4.1" fill="#008000" fill-opacity="0.6"/>
<circle cx="166.2" cy="1001.3" r="4.1" fill="#008000" fill-opacity="0.6"/>
<circle cx="92.4" cy="1077.0" r="4.1" fill="#008000" fill-opacity="0.6"/>
<circle cx="147.9" cy="1037.5" r="4.1" fill="#008000" fill-opacity="0.6"/>
<circle cx="110.7" cy="1055.2" r="4.1" fill="#008000" fill-opacity="0.6"/>
<circle cx="129.7" cy="1051.5" r="4.1" fill="#008000" fill-opacity="0.6"/>
<circle cx="276.9" cy="885.1" r="4.1" fill="#00ffff" fill-opacity="0.6"/>
<circle cx="111.1" cy="1055.2" r="4.1" fill="#00ffff" fill-opacity="0.6"/>
<circle cx="185.0" cy="1000.6" r="4.1" fill="#00ffff" fill-opacity="0.6"/>
<circle cx="92.4" cy="1049.0" r="4.1" fill="#00ffff" fill-opacity="0.6"/>
<circle cx="166.2" cy="998.6" r="4.1" fill="#00ffff" fill-opacity="0.6"/>
<circle cx="79.8" cy="1078.7" r="4.1" fill="#00ffff" fill-opacity="0.6"/>
<circle cx="88.6" cy="1080.4" r="4.1" fill="#00ffff" fill-opacity="0.6"/>
<circle cx="350.2" cy="862.5" r="4.1" fill="#00ffff" fill-opacity="0.6"/>
<circle cx="147.9" cy="1023.2" r="4.1" fill="#00ffff" fill-opacity="0.6"/>
<circle cx="111.1" cy="1041.6" r="4.1" fill="#0000ff" fill-opacity="0.6"/>
<circle cx="199.5" cy="985.0" r="4.1" fill="#0000ff" fill-opacity="0.6"/>
<circle cx="103.6" cy="1064.7" r="4.1" fill="#0000ff" fill-opacity="0.6"/>
<circle cx="111.1" cy="1066.8" r="4.1" fill="#0000ff" fill-opacity="0.6"/>
<circle cx="166.2" cy="1006.8" r="4.1" fill="#0000ff" fill-opacity="0.6"/>
<circle cx="92.4" cy="1074.3" r="4.1" fill="#0000ff" fill-opacity="0.6"/>
<circle cx="166.2" cy="1014.9" r="4.1" fill="#0000ff" fill-opacity="0.6"/>
<circle cx="111.1" cy="1024.5" r="4.1" fill="#0000ff" fill-opacity="0.6"/>
<circle cx="129.5" cy="1019.1" r="4.1" fill="#0000ff" fill-opacity="0.6"/>
<circle cx="153.6" cy="1010.8" r="4.1" fill="#0000ff" fill-opacity="0.6"/>
<circle cx="147.9" cy="1019.1" r="4.1" fill="#0000ff" fill-opacity="0.6"/>
<circle cx="147.9" cy="1030.0" r="4.1" fill="#0000ff" fill-opacity="0.6"/>
<circle cx="147.9" cy="1043.6" r="4.1" fill="#0000ff" fill-opacity="0.6"/>
<circle cx="110.7" cy="1042.3" r="4.1" fill="#0000ff" fill-opacity="0.6"/>
<circle cx="147.4" cy="1030.0" r="4.1" fill="#0000ff" fill-opacity="0.6"/>
<circle cx="258.5" cy="894.2" r="4.1" fill="#800080" fill-opacity="0.6"/>
<circle cx="111.1" cy="1047.7" r="4.1" fill="#800080" fill-opacity="0.6"/>
<circle cx="92.4" cy="1043.6" r="4.1" fill="#800080" fill-opacity="0.6"/>
<circle cx="129.5" cy="1041.6" r="4.1" fill="#800080" fill-opacity="0.6"/>
<circle cx="129.5" cy="1075.6" r="4.1" fill="#800080" fill-opacity="0.6"/>
<circle cx="86.6" cy="1077.0" r="4.1" fill="#800080" fill-opacity="0.6"/>
<circle cx="111.1" cy="1077.0" r="4.1" fill="#800080" fill-opacity="0.6"/>
<circle cx="221.6" cy="974.5" r="4.1" fill="#800080" fill-opacity="0.6"/>
<circle cx="92.4" cy="1091.3" r="4.1" fill="#800080" fill-opacity="0.6"/>
<circle cx="147.9" cy="1008.2" r="4.1" fill="#800080" fill-opacity="0.6"/>
<circle cx="110.7" cy="1048.4" r="4.1" fill="#800080" fill-opacity="0.6"/>
<circle cx="129.0" cy="1042.3" r="4.1" fill="#800080" fill-opacity="0.6"/>
<circle cx="147.4" cy="1008.6" r="4.1" fill="#800080" fill-opacity="0.6"/>
<line x1="74.50" y1="1098.60" x2="350.35" y2="836.55" stroke="#000" stroke-width="3.5" stroke-dasharray="11.5 5.5"/>
</g>
<text transform="translate(74.50,1129.30) scale(1.17,1)" text-anchor="middle" class="tk">0</text>
<text transform="translate(166.45,1129.30) scale(1.17,1)" text-anchor="middle" class="tk">5</text>
<text transform="translate(258.40,1129.30) scale(1.17,1)" text-anchor="middle" class="tk">10</text>
<text transform="translate(350.35,1129.30) scale(1.17,1)" text-anchor="middle" class="tk">15</text>
<text transform="translate(55.10,1104.80) scale(1.17,1)" text-anchor="end" class="tk">0.0</text>
<text transform="translate(55.10,1061.12) scale(1.17,1)" text-anchor="end" class="tk">2.5</text>
<text transform="translate(55.10,1017.45) scale(1.17,1)" text-anchor="end" class="tk">5.0</text>
<text transform="translate(55.10,973.77) scale(1.17,1)" text-anchor="end" class="tk">7.5</text>
<text transform="translate(55.10,930.10) scale(1.17,1)" text-anchor="end" class="tk">10.0</text>
<text transform="translate(55.10,886.42) scale(1.17,1)" text-anchor="end" class="tk">12.5</text>
<text transform="translate(55.10,842.75) scale(1.17,1)" text-anchor="end" class="tk">15.0</text>
<text transform="translate(213.30,819.10) scale(1.0,1)" text-anchor="middle" class="ti">LR</text>
<text transform="translate(213.30,1147.70) scale(1.12,1)" text-anchor="middle" class="lb">Ground Truth Motion[mm]</text>
<text transform="translate(11.3,967.4) rotate(-90) scale(1.12,1)" text-anchor="middle" class="lb">Predicted Motion[mm]</text>
<rect x="199.9" y="1046.5" width="162.70000000000002" height="61.09999999999991" fill="#EAEAF2" fill-opacity="0.8" stroke="#bdbdc3" stroke-width="0.9" rx="1.8"/>
<circle cx="211.2" cy="1053.0" r="4.0" fill="#ff0000" fill-opacity="0.6"/>
<text transform="translate(224.80,1055.90) scale(1.07,1)" text-anchor="start" class="lg">SL model 1</text>
<circle cx="211.2" cy="1064.8" r="4.0" fill="#808080" fill-opacity="0.6"/>
<text transform="translate(224.80,1067.65) scale(1.07,1)" text-anchor="start" class="lg">SL model 2</text>
<circle cx="211.2" cy="1076.5" r="4.0" fill="#ffc0cb" fill-opacity="0.6"/>
<text transform="translate(224.80,1079.40) scale(1.07,1)" text-anchor="start" class="lg">SL model 3</text>
<circle cx="211.2" cy="1088.2" r="4.0" fill="#a52a2a" fill-opacity="0.6"/>
<text transform="translate(224.80,1091.15) scale(1.07,1)" text-anchor="start" class="lg">SL model 4</text>
<circle cx="211.2" cy="1100.0" r="4.0" fill="#ffa500" fill-opacity="0.6"/>
<text transform="translate(224.80,1102.90) scale(1.07,1)" text-anchor="start" class="lg">SL model 5</text>
<circle cx="294.2" cy="1053.0" r="4.0" fill="#808000" fill-opacity="0.6"/>
<text transform="translate(307.80,1055.90) scale(1.07,1)" text-anchor="start" class="lg">SL model 6</text>
<circle cx="294.2" cy="1064.8" r="4.0" fill="#008000" fill-opacity="0.6"/>
<text transform="translate(307.80,1067.65) scale(1.07,1)" text-anchor="start" class="lg">SL model 7</text>
<circle cx="294.2" cy="1076.5" r="4.0" fill="#00ffff" fill-opacity="0.6"/>
<text transform="translate(307.80,1079.40) scale(1.07,1)" text-anchor="start" class="lg">SL model 8</text>
<circle cx="294.2" cy="1088.2" r="4.0" fill="#0000ff" fill-opacity="0.6"/>
<text transform="translate(307.80,1091.15) scale(1.07,1)" text-anchor="start" class="lg">SL model 9</text>
<circle cx="294.2" cy="1100.0" r="4.0" fill="#800080" fill-opacity="0.6"/>
<text transform="translate(307.80,1102.90) scale(1.07,1)" text-anchor="start" class="lg">SL model 10</text>
<rect x="428.3" y="824" width="306.7" height="287" fill="#EAEAF2"/>
<clipPath id="c140074930917632"><rect x="428.3" y="824" width="306.7" height="287"/></clipPath>
<g clip-path="url(#c140074930917632)">
<line x1="438.10" y1="824" x2="438.10" y2="1111" stroke="#fff" stroke-width="1.2"/>
<line x1="531.35" y1="824" x2="531.35" y2="1111" stroke="#fff" stroke-width="1.2"/>
<line x1="624.60" y1="824" x2="624.60" y2="1111" stroke="#fff" stroke-width="1.2"/>
<line x1="717.85" y1="824" x2="717.85" y2="1111" stroke="#fff" stroke-width="1.2"/>
<line x1="428.3" y1="1111.12" x2="735" y2="1111.12" stroke="#fff" stroke-width="1.2"/>
<line x1="428.3" y1="1063.28" x2="735" y2="1063.28" stroke="#fff" stroke-width="1.2"/>
<line x1="428.3" y1="1015.44" x2="735" y2="1015.44" stroke="#fff" stroke-width="1.2"/>
<line x1="428.3" y1="967.60" x2="735" y2="967.60" stroke="#fff" stroke-width="1.2"/>
<line x1="428.3" y1="919.76" x2="735" y2="919.76" stroke="#fff" stroke-width="1.2"/>
<line x1="428.3" y1="871.92" x2="735" y2="871.92" stroke="#fff" stroke-width="1.2"/>
<line x1="428.3" y1="824.08" x2="735" y2="824.08" stroke="#fff" stroke-width="1.2"/>
<rect x="428.3" y="919.76" width="306.7" height="95.68" fill="#ff0000" fill-opacity="0.1"/>
<circle cx="481.1" cy="943.3" r="3.60" fill="#ff0000" fill-opacity="0.8" stroke="#ff0000" stroke-opacity="0.8" stroke-width="1"/>
<circle cx="494.1" cy="940.9" r="3.60" fill="#ff0000" fill-opacity="0.8" stroke="#ff0000" stroke-opacity="0.8" stroke-width="1"/>
<circle cx="587.5" cy="953.5" r="3.60" fill="#ff0000" fill-opacity="0.8" stroke="#ff0000" stroke-opacity="0.8" stroke-width="1"/>
<circle cx="460.7" cy="976.3" r="3.60" fill="#ff0000" fill-opacity="0.8" stroke="#ff0000" stroke-opacity="0.8" stroke-width="1"/>
<circle cx="512.8" cy="1001.1" r="3.60" fill="#ff0000" fill-opacity="0.8" stroke="#ff0000" stroke-opacity="0.8" stroke-width="1"/>
<circle cx="511.8" cy="957.2" r="3.60" fill="#ff0000" fill-opacity="0.8" stroke="#ff0000" stroke-opacity="0.8" stroke-width="1"/>
<circle cx="494.1" cy="986.5" r="3.60" fill="#ff0000" fill-opacity="0.8" stroke="#ff0000" stroke-opacity="0.8" stroke-width="1"/>
<circle cx="531.4" cy="938.1" r="3.60" fill="#ff0000" fill-opacity="0.8" stroke="#ff0000" stroke-opacity="0.8" stroke-width="1"/>
<circle cx="569.0" cy="999.8" r="3.60" fill="#ff0000" fill-opacity="0.8" stroke="#ff0000" stroke-opacity="0.8" stroke-width="1"/>
<circle cx="522.0" cy="1027.8" r="3.60" fill="#808080" fill-opacity="0.8" stroke="#808080" stroke-opacity="0.8" stroke-width="1"/>
<circle cx="531.6" cy="1012.1" r="3.60" fill="#808080" fill-opacity="0.8" stroke="#808080" stroke-opacity="0.8" stroke-width="1"/>
<circle cx="456.7" cy="964.0" r="3.60" fill="#808080" fill-opacity="0.8" stroke="#808080" stroke-opacity="0.8" stroke-width="1"/>
<circle cx="568.7" cy="918.8" r="3.60" fill="#808080" fill-opacity="0.8" stroke="#808080" stroke-opacity="0.8" stroke-width="1"/>
<circle cx="503.2" cy="996.3" r="3.60" fill="#808080" fill-opacity="0.8" stroke="#808080" stroke-opacity="0.8" stroke-width="1"/>
<circle cx="512.7" cy="916.3" r="3.60" fill="#808080" fill-opacity="0.8" stroke="#808080" stroke-opacity="0.8" stroke-width="1"/>
<circle cx="456.7" cy="949.0" r="3.60" fill="#ffc0cb" fill-opacity="0.8" stroke="#ffc0cb" stroke-opacity="0.8" stroke-width="1"/>
<circle cx="456.7" cy="928.6" r="3.60" fill="#ffc0cb" fill-opacity="0.8" stroke="#ffc0cb" stroke-opacity="0.8" stroke-width="1"/>
<circle cx="456.6" cy="998.4" r="3.60" fill="#ffc0cb" fill-opacity="0.8" stroke="#ffc0cb" stroke-opacity="0.8" stroke-width="1"/>
<circle cx="531.4" cy="934.1" r="3.60" fill="#ffc0cb" fill-opacity="0.8" stroke="#ffc0cb" stroke-opacity="0.8" stroke-width="1"/>
<circle cx="466.1" cy="966.8" r="3.60" fill="#a52a2a" fill-opacity="0.8" stroke="#a52a2a" stroke-opacity="0.8" stroke-width="1"/>
<circle cx="550.0" cy="953.4" r="3.60" fill="#a52a2a" fill-opacity="0.8" stroke="#a52a2a" stroke-opacity="0.8" stroke-width="1"/>
<circle cx="493.8" cy="998.4" r="3.60" fill="#a52a2a" fill-opacity="0.8" stroke="#a52a2a" stroke-opacity="0.8" stroke-width="1"/>
<circle cx="531.6" cy="995.3" r="3.60" fill="#a52a2a" fill-opacity="0.8" stroke="#a52a2a" stroke-opacity="0.8" stroke-width="1"/>
<circle cx="512.7" cy="946.3" r="3.60" fill="#a52a2a" fill-opacity="0.8" stroke="#a52a2a" stroke-opacity="0.8" stroke-width="1"/>
<circle cx="531.4" cy="913.9" r="3.60" fill="#a52a2a" fill-opacity="0.8" stroke="#a52a2a" stroke-opacity="0.8" stroke-width="1"/>
<circle cx="569.0" cy="992.3" r="3.60" fill="#a52a2a" fill-opacity="0.8" stroke="#a52a2a" stroke-opacity="0.8" stroke-width="1"/>
<circle cx="494.1" cy="962.7" r="3.60" fill="#ffa500" fill-opacity="0.8" stroke="#ffa500" stroke-opacity="0.8" stroke-width="1"/>
<circle cx="550.0" cy="947.0" r="3.60" fill="#ffa500" fill-opacity="0.8" stroke="#ffa500" stroke-opacity="0.8" stroke-width="1"/>
<circle cx="456.7" cy="954.5" r="3.60" fill="#ffa500" fill-opacity="0.8" stroke="#ffa500" stroke-opacity="0.8" stroke-width="1"/>
<circle cx="493.8" cy="1008.6" r="3.60" fill="#ffa500" fill-opacity="0.8" stroke="#ffa500" stroke-opacity="0.8" stroke-width="1"/>
<circle cx="568.7" cy="972.6" r="3.60" fill="#ffa500" fill-opacity="0.8" stroke="#ffa500" stroke-opacity="0.8" stroke-width="1"/>
<circle cx="451.8" cy="965.4" r="3.60" fill="#ffa500" fill-opacity="0.8" stroke="#ffa500" stroke-opacity="0.8" stroke-width="1"/>
<circle cx="479.8" cy="978.3" r="3.60" fill="#ffa500" fill-opacity="0.8" stroke="#ffa500" stroke-opacity="0.8" stroke-width="1"/>
<circle cx="475.4" cy="945.0" r="3.60" fill="#808000" fill-opacity="0.8" stroke="#808000" stroke-opacity="0.8" stroke-width="1"/>
<circle cx="486.6" cy="955.9" r="3.60" fill="#808000" fill-opacity="0.8" stroke="#808000" stroke-opacity="0.8" stroke-width="1"/>
<circle cx="550.0" cy="973.6" r="3.60" fill="#808000" fill-opacity="0.8" stroke="#808000" stroke-opacity="0.8" stroke-width="1"/>
<circle cx="505.0" cy="967.4" r="3.60" fill="#808000" fill-opacity="0.8" stroke="#808000" stroke-opacity="0.8" stroke-width="1"/>
<circle cx="475.4" cy="947.7" r="3.60" fill="#008000" fill-opacity="0.8" stroke="#008000" stroke-opacity="0.8" stroke-width="1"/>
<circle cx="468.2" cy="966.8" r="3.60" fill="#008000" fill-opacity="0.8" stroke="#008000" stroke-opacity="0.8" stroke-width="1"/>
<circle cx="456.7" cy="973.6" r="3.60" fill="#008000" fill-opacity="0.8" stroke="#008000" stroke-opacity="0.8" stroke-width="1"/>
<circle cx="475.4" cy="973.6" r="3.60" fill="#008000" fill-opacity="0.8" stroke="#008000" stroke-opacity="0.8" stroke-width="1"/>
<circle cx="512.7" cy="983.1" r="3.60" fill="#008000" fill-opacity="0.8" stroke="#008000" stroke-opacity="0.8" stroke-width="1"/>
<circle cx="495.8" cy="985.8" r="3.60" fill="#008000" fill-opacity="0.8" stroke="#008000" stroke-opacity="0.8" stroke-width="1"/>
<circle cx="643.8" cy="931.1" r="3.60" fill="#00ffff" fill-opacity="0.8" stroke="#00ffff" stroke-opacity="0.8" stroke-width="1"/>
<circle cx="475.4" cy="962.7" r="3.60" fill="#00ffff" fill-opacity="0.8" stroke="#00ffff" stroke-opacity="0.8" stroke-width="1"/>
<circle cx="475.4" cy="967.4" r="3.60" fill="#00ffff" fill-opacity="0.8" stroke="#00ffff" stroke-opacity="0.8" stroke-width="1"/>
<circle cx="456.7" cy="935.7" r="3.60" fill="#00ffff" fill-opacity="0.8" stroke="#00ffff" stroke-opacity="0.8" stroke-width="1"/>
<circle cx="453.2" cy="979.7" r="3.60" fill="#00ffff" fill-opacity="0.8" stroke="#00ffff" stroke-opacity="0.8" stroke-width="1"/>
<circle cx="550.0" cy="980.1" r="3.60" fill="#00ffff" fill-opacity="0.8" stroke="#00ffff" stroke-opacity="0.8" stroke-width="1"/>
<circle cx="718.3" cy="986.8" r="3.60" fill="#00ffff" fill-opacity="0.8" stroke="#00ffff" stroke-opacity="0.8" stroke-width="1"/>
<circle cx="443.7" cy="963.4" r="3.60" fill="#00ffff" fill-opacity="0.8" stroke="#00ffff" stroke-opacity="0.8" stroke-width="1"/>
<circle cx="475.4" cy="985.1" r="3.60" fill="#00ffff" fill-opacity="0.8" stroke="#00ffff" stroke-opacity="0.8" stroke-width="1"/>
<circle cx="531.4" cy="955.9" r="3.60" fill="#00ffff" fill-opacity="0.8" stroke="#00ffff" stroke-opacity="0.8" stroke-width="1"/>
<circle cx="512.7" cy="992.6" r="3.60" fill="#00ffff" fill-opacity="0.8" stroke="#00ffff" stroke-opacity="0.8" stroke-width="1"/>
<circle cx="565.0" cy="965.8" r="3.60" fill="#0000ff" fill-opacity="0.8" stroke="#0000ff" stroke-opacity="0.8" stroke-width="1"/>
<circle cx="494.1" cy="943.6" r="3.60" fill="#0000ff" fill-opacity="0.8" stroke="#0000ff" stroke-opacity="0.8" stroke-width="1"/>
<circle cx="475.4" cy="932.7" r="3.60" fill="#0000ff" fill-opacity="0.8" stroke="#0000ff" stroke-opacity="0.8" stroke-width="1"/>
<circle cx="494.1" cy="977.0" r="3.60" fill="#0000ff" fill-opacity="0.8" stroke="#0000ff" stroke-opacity="0.8" stroke-width="1"/>
<circle cx="467.9" cy="980.4" r="3.60" fill="#0000ff" fill-opacity="0.8" stroke="#0000ff" stroke-opacity="0.8" stroke-width="1"/>
<circle cx="512.8" cy="995.3" r="3.60" fill="#0000ff" fill-opacity="0.8" stroke="#0000ff" stroke-opacity="0.8" stroke-width="1"/>
<circle cx="512.7" cy="974.3" r="3.60" fill="#0000ff" fill-opacity="0.8" stroke="#0000ff" stroke-opacity="0.8" stroke-width="1"/>
<circle cx="512.7" cy="979.0" r="3.60" fill="#0000ff" fill-opacity="0.8" stroke="#0000ff" stroke-opacity="0.8" stroke-width="1"/>
<circle cx="531.4" cy="963.4" r="3.60" fill="#0000ff" fill-opacity="0.8" stroke="#0000ff" stroke-opacity="0.8" stroke-width="1"/>
<circle cx="531.4" cy="973.6" r="3.60" fill="#0000ff" fill-opacity="0.8" stroke="#0000ff" stroke-opacity="0.8" stroke-width="1"/>
<circle cx="517.2" cy="949.0" r="3.60" fill="#0000ff" fill-opacity="0.8" stroke="#0000ff" stroke-opacity="0.8" stroke-width="1"/>
<circle cx="518.6" cy="955.9" r="3.60" fill="#0000ff" fill-opacity="0.8" stroke="#0000ff" stroke-opacity="0.8" stroke-width="1"/>
<circle cx="475.4" cy="953.1" r="3.60" fill="#800080" fill-opacity="0.8" stroke="#800080" stroke-opacity="0.8" stroke-width="1"/>
<circle cx="493.8" cy="1015.8" r="3.60" fill="#800080" fill-opacity="0.8" stroke="#800080" stroke-opacity="0.8" stroke-width="1"/>
<circle cx="494.1" cy="970.2" r="3.60" fill="#800080" fill-opacity="0.8" stroke="#800080" stroke-opacity="0.8" stroke-width="1"/>
<circle cx="625.0" cy="940.8" r="3.60" fill="#800080" fill-opacity="0.8" stroke="#800080" stroke-opacity="0.8" stroke-width="1"/>
<circle cx="451.2" cy="960.6" r="3.60" fill="#800080" fill-opacity="0.8" stroke="#800080" stroke-opacity="0.8" stroke-width="1"/>
<circle cx="456.7" cy="922.5" r="3.60" fill="#800080" fill-opacity="0.8" stroke="#800080" stroke-opacity="0.8" stroke-width="1"/>
<circle cx="475.4" cy="978.3" r="3.60" fill="#800080" fill-opacity="0.8" stroke="#800080" stroke-opacity="0.8" stroke-width="1"/>
<circle cx="512.7" cy="949.0" r="3.60" fill="#800080" fill-opacity="0.8" stroke="#800080" stroke-opacity="0.8" stroke-width="1"/>
<circle cx="512.7" cy="963.4" r="3.60" fill="#800080" fill-opacity="0.8" stroke="#800080" stroke-opacity="0.8" stroke-width="1"/>
<circle cx="456.7" cy="986.5" r="3.60" fill="#800080" fill-opacity="0.8" stroke="#800080" stroke-opacity="0.8" stroke-width="1"/>
<circle cx="475.4" cy="993.3" r="3.60" fill="#800080" fill-opacity="0.8" stroke="#800080" stroke-opacity="0.8" stroke-width="1"/>
<circle cx="587.5" cy="999.5" r="3.60" fill="#800080" fill-opacity="0.8" stroke="#800080" stroke-opacity="0.8" stroke-width="1"/>
<circle cx="475.4" cy="956.6" r="3.60" fill="#800080" fill-opacity="0.8" stroke="#800080" stroke-opacity="0.8" stroke-width="1"/>
<circle cx="457.0" cy="987.9" r="3.60" fill="#800080" fill-opacity="0.8" stroke="#800080" stroke-opacity="0.8" stroke-width="1"/>
<circle cx="475.4" cy="952.0" r="3.60" fill="#800080" fill-opacity="0.8" stroke="#800080" stroke-opacity="0.8" stroke-width="1"/>
<line x1="428.3" y1="967.60" x2="735" y2="967.60" stroke="#1a1a1a" stroke-width="1.6" stroke-dasharray="1.6 2.12" stroke-dashoffset="3.34"/>
</g>
<text transform="translate(438.10,1129.30) scale(1.17,1)" text-anchor="middle" class="tk">0</text>
<text transform="translate(531.35,1129.30) scale(1.17,1)" text-anchor="middle" class="tk">5</text>
<text transform="translate(624.60,1129.30) scale(1.17,1)" text-anchor="middle" class="tk">10</text>
<text transform="translate(717.85,1129.30) scale(1.17,1)" text-anchor="middle" class="tk">15</text>
<text transform="translate(422.40,1117.32) scale(1.17,1)" text-anchor="end" class="tk">6</text>
<rect x="399.52" y="1111.37" width="10.8" height="1.35" fill="#262626"/>
<text transform="translate(422.40,1069.48) scale(1.17,1)" text-anchor="end" class="tk">4</text>
<rect x="399.06" y="1063.53" width="10.8" height="1.35" fill="#262626"/>
<text transform="translate(422.40,1021.64) scale(1.17,1)" text-anchor="end" class="tk">2</text>
<rect x="399.52" y="1015.69" width="10.8" height="1.35" fill="#262626"/>
<text transform="translate(422.40,973.80) scale(1.17,1)" text-anchor="end" class="tk">0</text>
<text transform="translate(422.40,925.96) scale(1.17,1)" text-anchor="end" class="tk">2</text>
<text transform="translate(422.40,878.12) scale(1.17,1)" text-anchor="end" class="tk">4</text>
<text transform="translate(422.40,830.28) scale(1.17,1)" text-anchor="end" class="tk">6</text>
<text transform="translate(580.30,819.40) scale(1.0,1)" text-anchor="middle" class="ti">LR</text>
<text transform="translate(580.30,1147.70) scale(1.12,1)" text-anchor="middle" class="lb">Ground Truth Motion[mm]</text>
<text transform="translate(391.3,967.5) rotate(-90) scale(1.12,1)" text-anchor="middle" class="lb">Residuals[mm]</text>
<rect x="567.6" y="1046.9" width="162.60000000000002" height="60.69999999999982" fill="#EAEAF2" fill-opacity="0.8" stroke="#bdbdc3" stroke-width="0.9" rx="1.8"/>
<circle cx="579.4" cy="1053.4" r="3.50" fill="#ff0000" fill-opacity="0.8" stroke="#ff0000" stroke-opacity="0.8" stroke-width="1"/>
<text transform="translate(593.00,1056.30) scale(1.07,1)" text-anchor="start" class="lg">SL model 1</text>
<circle cx="579.4" cy="1065.2" r="3.50" fill="#808080" fill-opacity="0.8" stroke="#808080" stroke-opacity="0.8" stroke-width="1"/>
<text transform="translate(593.00,1068.05) scale(1.07,1)" text-anchor="start" class="lg">SL model 2</text>
<circle cx="579.4" cy="1076.9" r="3.50" fill="#ffc0cb" fill-opacity="0.8" stroke="#ffc0cb" stroke-opacity="0.8" stroke-width="1"/>
<text transform="translate(593.00,1079.80) scale(1.07,1)" text-anchor="start" class="lg">SL model 3</text>
<circle cx="579.4" cy="1088.7" r="3.50" fill="#a52a2a" fill-opacity="0.8" stroke="#a52a2a" stroke-opacity="0.8" stroke-width="1"/>
<text transform="translate(593.00,1091.55) scale(1.07,1)" text-anchor="start" class="lg">SL model 4</text>
<circle cx="579.4" cy="1100.4" r="3.50" fill="#ffa500" fill-opacity="0.8" stroke="#ffa500" stroke-opacity="0.8" stroke-width="1"/>
<text transform="translate(593.00,1103.30) scale(1.07,1)" text-anchor="start" class="lg">SL model 5</text>
<circle cx="662.4" cy="1053.4" r="3.50" fill="#808000" fill-opacity="0.8" stroke="#808000" stroke-opacity="0.8" stroke-width="1"/>
<text transform="translate(676.00,1056.30) scale(1.07,1)" text-anchor="start" class="lg">SL model 6</text>
<circle cx="662.4" cy="1065.2" r="3.50" fill="#008000" fill-opacity="0.8" stroke="#008000" stroke-opacity="0.8" stroke-width="1"/>
<text transform="translate(676.00,1068.05) scale(1.07,1)" text-anchor="start" class="lg">SL model 7</text>
<circle cx="662.4" cy="1076.9" r="3.50" fill="#00ffff" fill-opacity="0.8" stroke="#00ffff" stroke-opacity="0.8" stroke-width="1"/>
<text transform="translate(676.00,1079.80) scale(1.07,1)" text-anchor="start" class="lg">SL model 8</text>
<circle cx="662.4" cy="1088.7" r="3.50" fill="#0000ff" fill-opacity="0.8" stroke="#0000ff" stroke-opacity="0.8" stroke-width="1"/>
<text transform="translate(676.00,1091.55) scale(1.07,1)" text-anchor="start" class="lg">SL model 9</text>
<circle cx="662.4" cy="1100.4" r="3.50" fill="#800080" fill-opacity="0.8" stroke="#800080" stroke-opacity="0.8" stroke-width="1"/>
<text transform="translate(676.00,1103.30) scale(1.07,1)" text-anchor="start" class="lg">SL model 10</text></svg>
</body></html>
